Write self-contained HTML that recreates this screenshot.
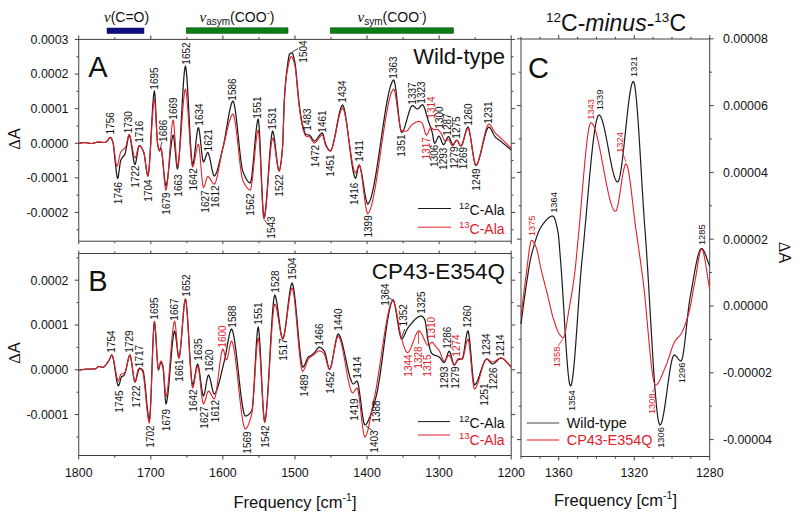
<!DOCTYPE html>
<html><head><meta charset="utf-8"><title>FTIR</title>
<style>html,body{margin:0;padding:0;background:#fff;width:800px;height:521px;overflow:hidden}svg{display:block}</style>
</head><body>
<svg width="800" height="521" viewBox="0 0 800 521" font-family='"Liberation Sans", sans-serif'><rect x="78.75" y="39.4" width="432.45" height="201.8" fill="none" stroke="#404040" stroke-width="1"/>
<rect x="78.75" y="253.5" width="432.45" height="202" fill="none" stroke="#404040" stroke-width="1"/>
<rect x="521" y="39" width="188.7" height="417.5" fill="none" stroke="#404040" stroke-width="1"/>
<line x1="78.75" y1="39.4" x2="78.75" y2="35.4" stroke="#404040" stroke-width="1"/>
<line x1="78.75" y1="241.2" x2="78.75" y2="241.2" stroke="#404040" stroke-width="1"/>
<line x1="78.75" y1="455.5" x2="78.75" y2="459.5" stroke="#404040" stroke-width="1"/>
<line x1="78.75" y1="253.5" x2="78.75" y2="253.5" stroke="#404040" stroke-width="1"/>
<line x1="114.79" y1="39.4" x2="114.79" y2="37.2" stroke="#404040" stroke-width="1"/>
<line x1="114.79" y1="241.2" x2="114.79" y2="241.2" stroke="#404040" stroke-width="1"/>
<line x1="114.79" y1="455.5" x2="114.79" y2="457.7" stroke="#404040" stroke-width="1"/>
<line x1="114.79" y1="253.5" x2="114.79" y2="253.5" stroke="#404040" stroke-width="1"/>
<line x1="150.82" y1="39.4" x2="150.82" y2="35.4" stroke="#404040" stroke-width="1"/>
<line x1="150.82" y1="241.2" x2="150.82" y2="241.2" stroke="#404040" stroke-width="1"/>
<line x1="150.82" y1="455.5" x2="150.82" y2="459.5" stroke="#404040" stroke-width="1"/>
<line x1="150.82" y1="253.5" x2="150.82" y2="253.5" stroke="#404040" stroke-width="1"/>
<line x1="186.86" y1="39.4" x2="186.86" y2="37.2" stroke="#404040" stroke-width="1"/>
<line x1="186.86" y1="241.2" x2="186.86" y2="241.2" stroke="#404040" stroke-width="1"/>
<line x1="186.86" y1="455.5" x2="186.86" y2="457.7" stroke="#404040" stroke-width="1"/>
<line x1="186.86" y1="253.5" x2="186.86" y2="253.5" stroke="#404040" stroke-width="1"/>
<line x1="222.9" y1="39.4" x2="222.9" y2="35.4" stroke="#404040" stroke-width="1"/>
<line x1="222.9" y1="241.2" x2="222.9" y2="241.2" stroke="#404040" stroke-width="1"/>
<line x1="222.9" y1="455.5" x2="222.9" y2="459.5" stroke="#404040" stroke-width="1"/>
<line x1="222.9" y1="253.5" x2="222.9" y2="253.5" stroke="#404040" stroke-width="1"/>
<line x1="258.94" y1="39.4" x2="258.94" y2="37.2" stroke="#404040" stroke-width="1"/>
<line x1="258.94" y1="241.2" x2="258.94" y2="241.2" stroke="#404040" stroke-width="1"/>
<line x1="258.94" y1="455.5" x2="258.94" y2="457.7" stroke="#404040" stroke-width="1"/>
<line x1="258.94" y1="253.5" x2="258.94" y2="253.5" stroke="#404040" stroke-width="1"/>
<line x1="294.98" y1="39.4" x2="294.98" y2="35.4" stroke="#404040" stroke-width="1"/>
<line x1="294.98" y1="241.2" x2="294.98" y2="241.2" stroke="#404040" stroke-width="1"/>
<line x1="294.98" y1="455.5" x2="294.98" y2="459.5" stroke="#404040" stroke-width="1"/>
<line x1="294.98" y1="253.5" x2="294.98" y2="253.5" stroke="#404040" stroke-width="1"/>
<line x1="331.01" y1="39.4" x2="331.01" y2="37.2" stroke="#404040" stroke-width="1"/>
<line x1="331.01" y1="241.2" x2="331.01" y2="241.2" stroke="#404040" stroke-width="1"/>
<line x1="331.01" y1="455.5" x2="331.01" y2="457.7" stroke="#404040" stroke-width="1"/>
<line x1="331.01" y1="253.5" x2="331.01" y2="253.5" stroke="#404040" stroke-width="1"/>
<line x1="367.05" y1="39.4" x2="367.05" y2="35.4" stroke="#404040" stroke-width="1"/>
<line x1="367.05" y1="241.2" x2="367.05" y2="241.2" stroke="#404040" stroke-width="1"/>
<line x1="367.05" y1="455.5" x2="367.05" y2="459.5" stroke="#404040" stroke-width="1"/>
<line x1="367.05" y1="253.5" x2="367.05" y2="253.5" stroke="#404040" stroke-width="1"/>
<line x1="403.09" y1="39.4" x2="403.09" y2="37.2" stroke="#404040" stroke-width="1"/>
<line x1="403.09" y1="241.2" x2="403.09" y2="241.2" stroke="#404040" stroke-width="1"/>
<line x1="403.09" y1="455.5" x2="403.09" y2="457.7" stroke="#404040" stroke-width="1"/>
<line x1="403.09" y1="253.5" x2="403.09" y2="253.5" stroke="#404040" stroke-width="1"/>
<line x1="439.12" y1="39.4" x2="439.12" y2="35.4" stroke="#404040" stroke-width="1"/>
<line x1="439.12" y1="241.2" x2="439.12" y2="241.2" stroke="#404040" stroke-width="1"/>
<line x1="439.12" y1="455.5" x2="439.12" y2="459.5" stroke="#404040" stroke-width="1"/>
<line x1="439.12" y1="253.5" x2="439.12" y2="253.5" stroke="#404040" stroke-width="1"/>
<line x1="475.16" y1="39.4" x2="475.16" y2="37.2" stroke="#404040" stroke-width="1"/>
<line x1="475.16" y1="241.2" x2="475.16" y2="241.2" stroke="#404040" stroke-width="1"/>
<line x1="475.16" y1="455.5" x2="475.16" y2="457.7" stroke="#404040" stroke-width="1"/>
<line x1="475.16" y1="253.5" x2="475.16" y2="253.5" stroke="#404040" stroke-width="1"/>
<line x1="511.2" y1="39.4" x2="511.2" y2="35.4" stroke="#404040" stroke-width="1"/>
<line x1="511.2" y1="241.2" x2="511.2" y2="241.2" stroke="#404040" stroke-width="1"/>
<line x1="511.2" y1="455.5" x2="511.2" y2="459.5" stroke="#404040" stroke-width="1"/>
<line x1="511.2" y1="253.5" x2="511.2" y2="253.5" stroke="#404040" stroke-width="1"/>
<line x1="78.75" y1="241.2" x2="78.75" y2="244.2" stroke="#404040" stroke-width="1"/>
<line x1="78.75" y1="253.5" x2="78.75" y2="250.5" stroke="#404040" stroke-width="1"/>
<line x1="114.79" y1="241.2" x2="114.79" y2="243.2" stroke="#404040" stroke-width="1"/>
<line x1="114.79" y1="253.5" x2="114.79" y2="251.5" stroke="#404040" stroke-width="1"/>
<line x1="150.82" y1="241.2" x2="150.82" y2="244.2" stroke="#404040" stroke-width="1"/>
<line x1="150.82" y1="253.5" x2="150.82" y2="250.5" stroke="#404040" stroke-width="1"/>
<line x1="186.86" y1="241.2" x2="186.86" y2="243.2" stroke="#404040" stroke-width="1"/>
<line x1="186.86" y1="253.5" x2="186.86" y2="251.5" stroke="#404040" stroke-width="1"/>
<line x1="222.9" y1="241.2" x2="222.9" y2="244.2" stroke="#404040" stroke-width="1"/>
<line x1="222.9" y1="253.5" x2="222.9" y2="250.5" stroke="#404040" stroke-width="1"/>
<line x1="258.94" y1="241.2" x2="258.94" y2="243.2" stroke="#404040" stroke-width="1"/>
<line x1="258.94" y1="253.5" x2="258.94" y2="251.5" stroke="#404040" stroke-width="1"/>
<line x1="294.98" y1="241.2" x2="294.98" y2="244.2" stroke="#404040" stroke-width="1"/>
<line x1="294.98" y1="253.5" x2="294.98" y2="250.5" stroke="#404040" stroke-width="1"/>
<line x1="331.01" y1="241.2" x2="331.01" y2="243.2" stroke="#404040" stroke-width="1"/>
<line x1="331.01" y1="253.5" x2="331.01" y2="251.5" stroke="#404040" stroke-width="1"/>
<line x1="367.05" y1="241.2" x2="367.05" y2="244.2" stroke="#404040" stroke-width="1"/>
<line x1="367.05" y1="253.5" x2="367.05" y2="250.5" stroke="#404040" stroke-width="1"/>
<line x1="403.09" y1="241.2" x2="403.09" y2="243.2" stroke="#404040" stroke-width="1"/>
<line x1="403.09" y1="253.5" x2="403.09" y2="251.5" stroke="#404040" stroke-width="1"/>
<line x1="439.12" y1="241.2" x2="439.12" y2="244.2" stroke="#404040" stroke-width="1"/>
<line x1="439.12" y1="253.5" x2="439.12" y2="250.5" stroke="#404040" stroke-width="1"/>
<line x1="475.16" y1="241.2" x2="475.16" y2="243.2" stroke="#404040" stroke-width="1"/>
<line x1="475.16" y1="253.5" x2="475.16" y2="251.5" stroke="#404040" stroke-width="1"/>
<line x1="511.2" y1="241.2" x2="511.2" y2="244.2" stroke="#404040" stroke-width="1"/>
<line x1="511.2" y1="253.5" x2="511.2" y2="250.5" stroke="#404040" stroke-width="1"/>
<line x1="78.75" y1="229.75" x2="76.55" y2="229.75" stroke="#404040" stroke-width="1"/>
<line x1="511.2" y1="229.75" x2="513.4" y2="229.75" stroke="#404040" stroke-width="1"/>
<line x1="78.75" y1="212.45" x2="74.75" y2="212.45" stroke="#404040" stroke-width="1"/>
<line x1="511.2" y1="212.45" x2="515.2" y2="212.45" stroke="#404040" stroke-width="1"/>
<text x="68.5" y="216.85" font-size="12.4" text-anchor="end" fill="#111" font-family='"Liberation Sans", sans-serif'>-0.0002</text>
<line x1="78.75" y1="195.15" x2="76.55" y2="195.15" stroke="#404040" stroke-width="1"/>
<line x1="511.2" y1="195.15" x2="513.4" y2="195.15" stroke="#404040" stroke-width="1"/>
<line x1="78.75" y1="177.85" x2="74.75" y2="177.85" stroke="#404040" stroke-width="1"/>
<line x1="511.2" y1="177.85" x2="515.2" y2="177.85" stroke="#404040" stroke-width="1"/>
<text x="68.5" y="182.25" font-size="12.4" text-anchor="end" fill="#111" font-family='"Liberation Sans", sans-serif'>-0.0001</text>
<line x1="78.75" y1="160.55" x2="76.55" y2="160.55" stroke="#404040" stroke-width="1"/>
<line x1="511.2" y1="160.55" x2="513.4" y2="160.55" stroke="#404040" stroke-width="1"/>
<line x1="78.75" y1="143.25" x2="74.75" y2="143.25" stroke="#404040" stroke-width="1"/>
<line x1="511.2" y1="143.25" x2="515.2" y2="143.25" stroke="#404040" stroke-width="1"/>
<text x="68.5" y="147.65" font-size="12.4" text-anchor="end" fill="#111" font-family='"Liberation Sans", sans-serif'>0.0000</text>
<line x1="78.75" y1="125.95" x2="76.55" y2="125.95" stroke="#404040" stroke-width="1"/>
<line x1="511.2" y1="125.95" x2="513.4" y2="125.95" stroke="#404040" stroke-width="1"/>
<line x1="78.75" y1="108.65" x2="74.75" y2="108.65" stroke="#404040" stroke-width="1"/>
<line x1="511.2" y1="108.65" x2="515.2" y2="108.65" stroke="#404040" stroke-width="1"/>
<text x="68.5" y="113.05" font-size="12.4" text-anchor="end" fill="#111" font-family='"Liberation Sans", sans-serif'>0.0001</text>
<line x1="78.75" y1="91.35" x2="76.55" y2="91.35" stroke="#404040" stroke-width="1"/>
<line x1="511.2" y1="91.35" x2="513.4" y2="91.35" stroke="#404040" stroke-width="1"/>
<line x1="78.75" y1="74.05" x2="74.75" y2="74.05" stroke="#404040" stroke-width="1"/>
<line x1="511.2" y1="74.05" x2="515.2" y2="74.05" stroke="#404040" stroke-width="1"/>
<text x="68.5" y="78.45" font-size="12.4" text-anchor="end" fill="#111" font-family='"Liberation Sans", sans-serif'>0.0002</text>
<line x1="78.75" y1="56.75" x2="76.55" y2="56.75" stroke="#404040" stroke-width="1"/>
<line x1="511.2" y1="56.75" x2="513.4" y2="56.75" stroke="#404040" stroke-width="1"/>
<line x1="78.75" y1="39.45" x2="74.75" y2="39.45" stroke="#404040" stroke-width="1"/>
<line x1="511.2" y1="39.45" x2="515.2" y2="39.45" stroke="#404040" stroke-width="1"/>
<text x="68.5" y="43.85" font-size="12.4" text-anchor="end" fill="#111" font-family='"Liberation Sans", sans-serif'>0.0003</text>
<line x1="78.75" y1="437" x2="76.55" y2="437" stroke="#404040" stroke-width="1"/>
<line x1="511.2" y1="437" x2="513.4" y2="437" stroke="#404040" stroke-width="1"/>
<line x1="78.75" y1="414.6" x2="74.75" y2="414.6" stroke="#404040" stroke-width="1"/>
<line x1="511.2" y1="414.6" x2="515.2" y2="414.6" stroke="#404040" stroke-width="1"/>
<text x="68.5" y="419" font-size="12.4" text-anchor="end" fill="#111" font-family='"Liberation Sans", sans-serif'>-0.0001</text>
<line x1="78.75" y1="392.2" x2="76.55" y2="392.2" stroke="#404040" stroke-width="1"/>
<line x1="511.2" y1="392.2" x2="513.4" y2="392.2" stroke="#404040" stroke-width="1"/>
<line x1="78.75" y1="369.8" x2="74.75" y2="369.8" stroke="#404040" stroke-width="1"/>
<line x1="511.2" y1="369.8" x2="515.2" y2="369.8" stroke="#404040" stroke-width="1"/>
<text x="68.5" y="374.2" font-size="12.4" text-anchor="end" fill="#111" font-family='"Liberation Sans", sans-serif'>0.0000</text>
<line x1="78.75" y1="347.4" x2="76.55" y2="347.4" stroke="#404040" stroke-width="1"/>
<line x1="511.2" y1="347.4" x2="513.4" y2="347.4" stroke="#404040" stroke-width="1"/>
<line x1="78.75" y1="325" x2="74.75" y2="325" stroke="#404040" stroke-width="1"/>
<line x1="511.2" y1="325" x2="515.2" y2="325" stroke="#404040" stroke-width="1"/>
<text x="68.5" y="329.4" font-size="12.4" text-anchor="end" fill="#111" font-family='"Liberation Sans", sans-serif'>0.0001</text>
<line x1="78.75" y1="302.6" x2="76.55" y2="302.6" stroke="#404040" stroke-width="1"/>
<line x1="511.2" y1="302.6" x2="513.4" y2="302.6" stroke="#404040" stroke-width="1"/>
<line x1="78.75" y1="280.2" x2="74.75" y2="280.2" stroke="#404040" stroke-width="1"/>
<line x1="511.2" y1="280.2" x2="515.2" y2="280.2" stroke="#404040" stroke-width="1"/>
<text x="68.5" y="284.6" font-size="12.4" text-anchor="end" fill="#111" font-family='"Liberation Sans", sans-serif'>0.0002</text>
<line x1="78.75" y1="257.8" x2="76.55" y2="257.8" stroke="#404040" stroke-width="1"/>
<line x1="511.2" y1="257.8" x2="513.4" y2="257.8" stroke="#404040" stroke-width="1"/>
<text x="78.75" y="476.6" font-size="12.4" text-anchor="middle" fill="#111" font-family='"Liberation Sans", sans-serif'>1800</text>
<text x="150.82" y="476.6" font-size="12.4" text-anchor="middle" fill="#111" font-family='"Liberation Sans", sans-serif'>1700</text>
<text x="222.9" y="476.6" font-size="12.4" text-anchor="middle" fill="#111" font-family='"Liberation Sans", sans-serif'>1600</text>
<text x="294.98" y="476.6" font-size="12.4" text-anchor="middle" fill="#111" font-family='"Liberation Sans", sans-serif'>1500</text>
<text x="367.05" y="476.6" font-size="12.4" text-anchor="middle" fill="#111" font-family='"Liberation Sans", sans-serif'>1400</text>
<text x="439.12" y="476.6" font-size="12.4" text-anchor="middle" fill="#111" font-family='"Liberation Sans", sans-serif'>1300</text>
<text x="511.2" y="476.6" font-size="12.4" text-anchor="middle" fill="#111" font-family='"Liberation Sans", sans-serif'>1200</text>
<line x1="521" y1="39" x2="521" y2="36.8" stroke="#404040" stroke-width="1"/>
<line x1="521" y1="456.5" x2="521" y2="458.7" stroke="#404040" stroke-width="1"/>
<line x1="539.88" y1="39" x2="539.88" y2="36.8" stroke="#404040" stroke-width="1"/>
<line x1="539.88" y1="456.5" x2="539.88" y2="458.7" stroke="#404040" stroke-width="1"/>
<line x1="558.75" y1="39" x2="558.75" y2="35" stroke="#404040" stroke-width="1"/>
<line x1="558.75" y1="456.5" x2="558.75" y2="460.5" stroke="#404040" stroke-width="1"/>
<line x1="577.62" y1="39" x2="577.62" y2="36.8" stroke="#404040" stroke-width="1"/>
<line x1="577.62" y1="456.5" x2="577.62" y2="458.7" stroke="#404040" stroke-width="1"/>
<line x1="596.5" y1="39" x2="596.5" y2="36.8" stroke="#404040" stroke-width="1"/>
<line x1="596.5" y1="456.5" x2="596.5" y2="458.7" stroke="#404040" stroke-width="1"/>
<line x1="615.38" y1="39" x2="615.38" y2="36.8" stroke="#404040" stroke-width="1"/>
<line x1="615.38" y1="456.5" x2="615.38" y2="458.7" stroke="#404040" stroke-width="1"/>
<line x1="634.25" y1="39" x2="634.25" y2="35" stroke="#404040" stroke-width="1"/>
<line x1="634.25" y1="456.5" x2="634.25" y2="460.5" stroke="#404040" stroke-width="1"/>
<line x1="653.12" y1="39" x2="653.12" y2="36.8" stroke="#404040" stroke-width="1"/>
<line x1="653.12" y1="456.5" x2="653.12" y2="458.7" stroke="#404040" stroke-width="1"/>
<line x1="672" y1="39" x2="672" y2="36.8" stroke="#404040" stroke-width="1"/>
<line x1="672" y1="456.5" x2="672" y2="458.7" stroke="#404040" stroke-width="1"/>
<line x1="690.88" y1="39" x2="690.88" y2="36.8" stroke="#404040" stroke-width="1"/>
<line x1="690.88" y1="456.5" x2="690.88" y2="458.7" stroke="#404040" stroke-width="1"/>
<line x1="709.75" y1="39" x2="709.75" y2="35" stroke="#404040" stroke-width="1"/>
<line x1="709.75" y1="456.5" x2="709.75" y2="460.5" stroke="#404040" stroke-width="1"/>
<text x="558.75" y="476.6" font-size="12.4" text-anchor="middle" fill="#111" font-family='"Liberation Sans", sans-serif'>1360</text>
<text x="634.25" y="476.6" font-size="12.4" text-anchor="middle" fill="#111" font-family='"Liberation Sans", sans-serif'>1320</text>
<text x="709.75" y="476.6" font-size="12.4" text-anchor="middle" fill="#111" font-family='"Liberation Sans", sans-serif'>1280</text>
<line x1="521" y1="439.6" x2="517" y2="439.6" stroke="#404040" stroke-width="1"/>
<line x1="709.7" y1="439.6" x2="713.7" y2="439.6" stroke="#404040" stroke-width="1"/>
<text x="723" y="444" font-size="12.4" text-anchor="start" fill="#111" font-family='"Liberation Sans", sans-serif'>-0.00004</text>
<line x1="521" y1="406.2" x2="518.8" y2="406.2" stroke="#404040" stroke-width="1"/>
<line x1="709.7" y1="406.2" x2="711.9" y2="406.2" stroke="#404040" stroke-width="1"/>
<line x1="521" y1="372.8" x2="517" y2="372.8" stroke="#404040" stroke-width="1"/>
<line x1="709.7" y1="372.8" x2="713.7" y2="372.8" stroke="#404040" stroke-width="1"/>
<text x="723" y="377.2" font-size="12.4" text-anchor="start" fill="#111" font-family='"Liberation Sans", sans-serif'>-0.00002</text>
<line x1="521" y1="339.4" x2="518.8" y2="339.4" stroke="#404040" stroke-width="1"/>
<line x1="709.7" y1="339.4" x2="711.9" y2="339.4" stroke="#404040" stroke-width="1"/>
<line x1="521" y1="306" x2="517" y2="306" stroke="#404040" stroke-width="1"/>
<line x1="709.7" y1="306" x2="713.7" y2="306" stroke="#404040" stroke-width="1"/>
<text x="723" y="310.4" font-size="12.4" text-anchor="start" fill="#111" font-family='"Liberation Sans", sans-serif'>0.00000</text>
<line x1="521" y1="272.6" x2="518.8" y2="272.6" stroke="#404040" stroke-width="1"/>
<line x1="709.7" y1="272.6" x2="711.9" y2="272.6" stroke="#404040" stroke-width="1"/>
<line x1="521" y1="239.2" x2="517" y2="239.2" stroke="#404040" stroke-width="1"/>
<line x1="709.7" y1="239.2" x2="713.7" y2="239.2" stroke="#404040" stroke-width="1"/>
<text x="723" y="243.6" font-size="12.4" text-anchor="start" fill="#111" font-family='"Liberation Sans", sans-serif'>0.00002</text>
<line x1="521" y1="205.8" x2="518.8" y2="205.8" stroke="#404040" stroke-width="1"/>
<line x1="709.7" y1="205.8" x2="711.9" y2="205.8" stroke="#404040" stroke-width="1"/>
<line x1="521" y1="172.4" x2="517" y2="172.4" stroke="#404040" stroke-width="1"/>
<line x1="709.7" y1="172.4" x2="713.7" y2="172.4" stroke="#404040" stroke-width="1"/>
<text x="723" y="176.8" font-size="12.4" text-anchor="start" fill="#111" font-family='"Liberation Sans", sans-serif'>0.00004</text>
<line x1="521" y1="139" x2="518.8" y2="139" stroke="#404040" stroke-width="1"/>
<line x1="709.7" y1="139" x2="711.9" y2="139" stroke="#404040" stroke-width="1"/>
<line x1="521" y1="105.6" x2="517" y2="105.6" stroke="#404040" stroke-width="1"/>
<line x1="709.7" y1="105.6" x2="713.7" y2="105.6" stroke="#404040" stroke-width="1"/>
<text x="723" y="110" font-size="12.4" text-anchor="start" fill="#111" font-family='"Liberation Sans", sans-serif'>0.00006</text>
<line x1="521" y1="72.2" x2="518.8" y2="72.2" stroke="#404040" stroke-width="1"/>
<line x1="709.7" y1="72.2" x2="711.9" y2="72.2" stroke="#404040" stroke-width="1"/>
<line x1="521" y1="38.8" x2="517" y2="38.8" stroke="#404040" stroke-width="1"/>
<line x1="709.7" y1="38.8" x2="713.7" y2="38.8" stroke="#404040" stroke-width="1"/>
<text x="723" y="43.2" font-size="12.4" text-anchor="start" fill="#111" font-family='"Liberation Sans", sans-serif'>0.00008</text>
<text transform="translate(19.5,139) rotate(-90)" font-size="16" text-anchor="middle" fill="#111"><tspan font-family='"Liberation Serif", serif' font-size="16.5">&#916;</tspan>A</text>
<text transform="translate(19.5,353) rotate(-90)" font-size="16" text-anchor="middle" fill="#111"><tspan font-family='"Liberation Serif", serif' font-size="16.5">&#916;</tspan>A</text>
<text transform="translate(779,252.5) rotate(90)" font-size="16" text-anchor="middle" fill="#111"><tspan font-family='"Liberation Serif", serif' font-size="16.5">&#916;</tspan>A</text>
<text x="295" y="508" font-size="16.5" text-anchor="middle" fill="#111" font-family='"Liberation Sans", sans-serif'>Frequency [cm<tspan font-size="10.5" dy="-7">-1</tspan><tspan dy="7">]</tspan></text>
<text x="615.5" y="505.5" font-size="16.5" text-anchor="middle" fill="#111" font-family='"Liberation Sans", sans-serif'>Frequency [cm<tspan font-size="10.5" dy="-7">-1</tspan><tspan dy="7">]</tspan></text>
<rect x="107" y="28" width="37" height="5.6" fill="#0b0d80" stroke="#101040" stroke-width="0.5"/>
<rect x="186.3" y="27.8" width="101.7" height="5.6" fill="#0a7d14" stroke="#0a3a0a" stroke-width="0.5"/>
<rect x="330.3" y="27.8" width="123.2" height="5.6" fill="#0a7d14" stroke="#0a3a0a" stroke-width="0.5"/>
<text x="104" y="22" font-size="14" fill="#111"><tspan font-family='"Liberation Serif", serif' font-style="italic" font-size="15">&#957;</tspan>(C=O)</text>
<text x="199.5" y="22" font-size="14" fill="#111"><tspan font-family='"Liberation Serif", serif' font-style="italic" font-size="15">&#957;</tspan><tspan font-size="10" dy="3">asym</tspan><tspan dy="-3">(COO</tspan><tspan font-size="9" dy="-6">-</tspan><tspan dy="6">)</tspan></text>
<text x="357.5" y="22" font-size="14" fill="#111"><tspan font-family='"Liberation Serif", serif' font-style="italic" font-size="15">&#957;</tspan><tspan font-size="10" dy="3">sym</tspan><tspan dy="-3">(COO</tspan><tspan font-size="9" dy="-6">-</tspan><tspan dy="6">)</tspan></text>
<text x="546" y="31.3" font-size="23" fill="#111"><tspan font-size="13.5" dy="-9.5">12</tspan><tspan dy="9.5">C-</tspan><tspan font-style="italic">minus</tspan>-<tspan font-size="13.5" dy="-9.5">13</tspan><tspan dy="9.5">C</tspan></text>
<text x="98" y="77" font-size="29" text-anchor="middle" fill="#111" font-family='"Liberation Sans", sans-serif'>A</text>
<text x="98" y="290.5" font-size="29" text-anchor="middle" fill="#111" font-family='"Liberation Sans", sans-serif'>B</text>
<text x="538.6" y="77.5" font-size="29" text-anchor="middle" fill="#111" font-family='"Liberation Sans", sans-serif'>C</text>
<text x="505" y="64" font-size="22" text-anchor="end" fill="#111" font-family='"Liberation Sans", sans-serif'>Wild-type</text>
<line x1="418" y1="208.5" x2="451" y2="208.5" stroke="#1c1c1c" stroke-width="1"/>
<line x1="418" y1="227.2" x2="451" y2="227.2" stroke="#e0202a" stroke-width="1"/>
<text x="459" y="214.75" font-size="14" fill="#111"><tspan font-size="9.5" dy="-6">12</tspan><tspan dy="6">C-Ala</tspan></text>
<text x="459" y="233.5" font-size="14" fill="#e0202a"><tspan font-size="9.5" dy="-6">13</tspan><tspan dy="6">C-Ala</tspan></text>
<path d="M78.75 143.2 L79.29 143.14 L79.84 143.08 L80.38 143.01 L80.93 142.94 L81.47 142.87 L82.01 142.8 L82.56 142.74 L83.1 142.69 L83.64 142.64 L84.19 142.61 L84.73 142.6 L85.25 142.62 L85.76 142.67 L86.28 142.73 L86.79 142.81 L87.31 142.9 L87.83 143 L88.34 143.1 L88.86 143.2 L89.37 143.29 L89.89 143.37 L90.4 143.43 L90.92 143.48 L91.44 143.5 L91.96 143.47 L92.48 143.4 L93 143.3 L93.52 143.17 L94.04 143.03 L94.56 142.88 L95.08 142.72 L95.6 142.57 L96.13 142.43 L96.65 142.3 L97.17 142.2 L97.69 142.13 L98.21 142.1 L98.73 142.11 L99.24 142.13 L99.76 142.16 L100.27 142.19 L100.79 142.23 L101.3 142.28 L101.82 142.32 L102.34 142.37 L102.85 142.41 L103.37 142.44 L103.88 142.47 L104.4 142.49 L104.91 142.5 L105.45 142.34 L105.98 141.99 L106.51 141.52 L107.05 141 L107.58 140.5 L108.16 139.86 L108.73 139.07 L109.31 138.29 L109.89 137.68 L110.46 137.4 L110.97 137.72 L111.47 138.46 L111.98 139.53 L112.48 140.9 L112.99 142.5 L113.49 145.45 L113.99 150.14 L114.5 155.38 L115 160 L115.54 164.51 L116.07 169.31 L116.6 173.71 L117.14 177 L117.67 178.5 L118.18 177.15 L118.68 174.19 L119.18 170.32 L119.69 166.29 L120.19 162.81 L120.7 160.6 L121.22 159.39 L121.74 158.44 L122.27 157.65 L122.79 156.9 L123.31 156.26 L123.83 155.74 L124.36 155.15 L124.88 154.3 L125.43 152.45 L125.98 149.68 L126.54 146.9 L127.07 144.13 L127.6 140.99 L128.14 138.01 L128.67 135.74 L129.2 134.7 L129.73 135.6 L130.25 137.58 L130.78 140.41 L131.3 143.84 L131.82 147.64 L132.35 151.56 L132.87 155.36 L133.4 158.79 L133.92 161.62 L134.44 163.6 L134.97 164.5 L135.51 163.53 L136.05 161.35 L136.59 158.38 L137.13 155 L137.67 151.62 L138.21 148.65 L138.75 146.47 L139.29 145.5 L139.83 145.7 L140.37 146.13 L140.91 146.75 L141.46 147.55 L142 148.5 L142.54 149.58 L143.08 150.75 L143.62 152 L144.16 153.98 L144.7 157.08 L145.24 160.88 L145.78 164.98 L146.32 168.95 L146.86 172.39 L147.4 174.88 L147.94 176 L148.48 173.79 L149.02 168.92 L149.56 161.92 L150.1 153.33 L150.64 143.68 L151.19 133.5 L151.73 123.32 L152.27 113.67 L152.81 105.08 L153.35 98.08 L153.89 93.21 L154.43 91 L154.97 95.16 L155.51 104.32 L156.05 116.16 L156.59 128.35 L157.13 138.57 L157.67 144.5 L158.27 147.63 L158.87 149.96 L159.47 151 L160.19 149.75 L160.92 148.5 L161.42 149.82 L161.92 152.76 L162.43 156.91 L162.93 161.88 L163.44 167.25 L163.94 172.62 L164.45 177.58 L164.95 181.74 L165.46 184.68 L165.96 186 L166.48 184.97 L166.99 182.73 L167.51 179.49 L168.02 175.44 L168.53 170.8 L169.05 165.75 L169.56 160.5 L170.08 155.25 L170.59 150.2 L171.11 145.56 L171.62 141.51 L172.14 138.27 L172.65 136.03 L173.17 135 L173.71 136.74 L174.25 140.63 L174.79 145.96 L175.33 152 L175.87 158.04 L176.41 163.37 L176.95 167.26 L177.49 169 L178.02 167.13 L178.55 163.12 L179.08 157.3 L179.61 149.99 L180.14 141.53 L180.66 132.25 L181.19 122.47 L181.72 112.53 L182.25 102.75 L182.78 93.47 L183.31 85.01 L183.84 77.7 L184.36 71.88 L184.89 67.87 L185.42 66 L185.94 68.01 L186.45 72.35 L186.97 78.64 L187.48 86.49 L188 95.51 L188.51 105.31 L189.02 115.5 L189.54 125.69 L190.05 135.49 L190.57 144.51 L191.08 152.36 L191.6 158.65 L192.11 162.99 L192.63 165 L193.15 163.88 L193.68 161.39 L194.2 157.83 L194.73 153.52 L195.25 148.76 L195.77 143.84 L196.3 139.08 L196.82 134.77 L197.35 131.21 L197.87 128.72 L198.39 127.6 L198.9 128.81 L199.4 131.51 L199.91 135.32 L200.41 139.87 L200.92 144.8 L201.42 149.73 L201.93 154.28 L202.43 158.09 L202.94 160.79 L203.44 162 L203.98 161.51 L204.52 160.43 L205.06 158.94 L205.6 157.25 L206.14 155.56 L206.68 154.07 L207.22 152.99 L207.76 152.5 L208.3 153.11 L208.85 154.46 L209.39 156.39 L209.93 158.77 L210.47 161.43 L211.01 164.25 L211.55 167.07 L212.09 169.73 L212.63 172.11 L213.17 174.04 L213.71 175.39 L214.25 176 L214.76 175.68 L215.27 175.06 L215.78 174.17 L216.29 173.03 L216.79 171.68 L217.3 170.13 L217.81 168.41 L218.32 166.55 L218.83 164.58 L219.34 162.51 L219.85 160.37 L220.36 158.2 L220.86 156 L221.37 153.82 L221.88 151.68 L222.39 149.6 L222.9 147.6 L223.4 145.53 L223.91 143.21 L224.41 140.68 L224.92 137.97 L225.42 135.11 L225.93 132.16 L226.43 129.14 L226.94 126.09 L227.44 123.05 L227.95 120.06 L228.45 117.16 L228.95 114.37 L229.46 111.75 L229.96 109.32 L230.47 107.13 L230.97 105.21 L231.48 103.6 L231.98 102.34 L232.49 101.46 L232.99 101 L233.5 101.78 L234 103.34 L234.5 105.62 L235.01 108.51 L235.51 111.95 L236.02 115.84 L236.52 120.11 L237.03 124.67 L237.53 129.44 L238.04 134.33 L238.54 139.27 L239.04 144.17 L239.55 148.95 L240.05 153.52 L240.56 157.8 L241.06 161.72 L241.57 165.17 L242.07 168.1 L242.58 170.4 L243.08 172 L243.6 173.23 L244.11 174.42 L244.63 175.57 L245.14 176.66 L245.66 177.69 L246.17 178.66 L246.68 179.54 L247.2 180.35 L247.71 181.06 L248.23 181.68 L248.74 182.19 L249.26 182.58 L249.77 182.85 L250.29 183 L250.82 181.84 L251.35 179.35 L251.87 175.73 L252.4 171.19 L252.93 165.93 L253.46 160.16 L253.99 154.09 L254.52 147.91 L255.05 141.84 L255.57 136.07 L256.1 130.81 L256.63 126.27 L257.16 122.65 L257.69 120.16 L258.22 119 L258.74 121.98 L259.27 128.57 L259.79 137.97 L260.31 149.38 L260.84 161.99 L261.36 175.01 L261.89 187.62 L262.41 199.03 L262.93 208.43 L263.46 215.02 L263.98 218 L264.49 216.71 L265 213.98 L265.51 210.01 L266.02 204.99 L266.53 199.11 L267.04 192.55 L267.54 185.52 L268.05 178.21 L268.56 170.79 L269.07 163.48 L269.58 156.45 L270.09 149.89 L270.6 144.01 L271.11 138.99 L271.61 135.02 L272.12 132.29 L272.63 131 L273.17 132.04 L273.71 134.33 L274.25 137.62 L274.79 141.67 L275.33 146.21 L275.88 151 L276.42 155.79 L276.96 160.33 L277.5 164.38 L278.04 167.67 L278.58 169.96 L279.12 171 L279.63 170.08 L280.15 168.1 L280.66 165.14 L281.18 161.26 L281.69 156.54 L282.21 151.03 L282.72 144.8 L283.44 124.66 L284.16 102.6 L284.74 93.13 L285.32 85.35 L285.89 79 L286.47 73.8 L287.05 69.05 L287.62 64.45 L288.2 60.29 L288.78 56.88 L289.35 54.51 L289.93 53.5 L290.47 53.3 L291.01 53.14 L291.55 53.04 L292.09 53 L292.61 53.57 L293.13 54.81 L293.64 56.62 L294.16 58.86 L294.67 61.43 L295.19 64.2 L295.84 69.31 L296.49 76.31 L297.14 83.4 L297.76 90.03 L298.39 96.74 L299.01 102.6 L299.59 107.16 L300.16 111.38 L300.74 115.23 L301.32 118.71 L301.89 121.8 L302.52 124.76 L303.14 127.34 L303.77 129.5 L304.42 131.57 L305.07 133.36 L305.71 134.3 L306.26 134.51 L306.81 134.66 L307.35 134.75 L307.9 134.83 L308.44 134.91 L308.99 135.03 L309.53 135.2 L310.06 135.55 L310.59 136.16 L311.12 136.93 L311.65 137.81 L312.18 138.7 L312.71 139.55 L313.23 140.26 L313.76 140.77 L314.29 141 L314.8 140.87 L315.3 140.59 L315.8 140.19 L316.31 139.67 L316.81 139.08 L317.32 138.42 L317.82 137.72 L318.33 137 L318.83 136.28 L319.34 135.58 L319.84 134.92 L320.35 134.33 L320.85 133.81 L321.35 133.41 L321.86 133.13 L322.36 133 L322.87 133.65 L323.37 135.1 L323.88 137.06 L324.38 139.28 L324.89 141.49 L325.39 143.42 L325.9 144.8 L326.44 145.9 L326.99 146.98 L327.54 148 L328.09 148.93 L328.64 149.73 L329.19 150.36 L329.74 150.8 L330.29 151 L330.8 150.6 L331.31 149.8 L331.82 148.65 L332.33 147.17 L332.84 145.4 L333.35 143.38 L333.87 141.15 L334.38 138.73 L334.89 136.18 L335.4 133.51 L335.91 130.77 L336.42 128 L336.93 125.23 L337.44 122.49 L337.95 119.82 L338.46 117.27 L338.97 114.85 L339.48 112.62 L339.99 110.6 L340.5 108.83 L341.01 107.35 L341.52 106.2 L342.03 105.4 L342.54 105 L343.06 105.6 L343.58 106.79 L344.1 108.5 L344.62 110.7 L345.14 113.33 L345.66 116.33 L346.18 119.67 L346.7 123.29 L347.21 127.13 L347.73 131.15 L348.25 135.3 L348.77 139.53 L349.29 143.77 L349.81 148 L350.33 152.15 L350.85 156.17 L351.37 160.01 L351.89 163.63 L352.4 166.97 L352.92 169.97 L353.44 172.6 L353.96 174.8 L354.48 176.51 L355 177.7 L355.52 178.3 L356.03 177.45 L356.55 175.55 L357.06 173.02 L357.58 170.28 L358.09 167.75 L358.61 165.85 L359.12 165 L359.63 165.58 L360.14 166.8 L360.65 168.58 L361.16 170.83 L361.67 173.47 L362.17 176.41 L362.68 179.56 L363.19 182.84 L363.7 186.16 L364.21 189.44 L364.72 192.59 L365.23 195.53 L365.74 198.17 L366.24 200.42 L366.75 202.2 L367.26 203.42 L367.77 204 L368.28 203.63 L368.79 203.01 L369.3 202.16 L369.81 201.08 L370.31 199.78 L370.82 198.27 L371.33 196.57 L371.84 194.68 L372.35 192.61 L372.86 190.38 L373.37 187.99 L373.88 185.45 L374.38 182.78 L374.89 179.98 L375.4 177.07 L375.91 174.05 L376.42 170.93 L376.93 167.73 L377.44 164.45 L377.95 161.11 L378.45 157.71 L378.96 154.27 L379.47 150.79 L379.98 147.28 L380.49 143.76 L381 140.24 L381.51 136.72 L382.02 133.21 L382.52 129.73 L383.03 126.29 L383.54 122.89 L384.05 119.55 L384.56 116.27 L385.07 113.07 L385.58 109.95 L386.09 106.93 L386.6 104.02 L387.1 101.22 L387.61 98.55 L388.12 96.01 L388.63 93.62 L389.14 91.39 L389.65 89.32 L390.16 87.43 L390.67 85.73 L391.17 84.22 L391.68 82.92 L392.19 81.84 L392.7 80.99 L393.21 80.37 L393.72 80 L394.25 80.95 L394.77 83 L395.3 85.96 L395.83 89.69 L396.36 94 L396.89 98.73 L397.42 103.72 L397.95 108.78 L398.47 113.77 L399 118.5 L399.53 122.81 L400.06 126.54 L400.59 129.5 L401.12 131.55 L401.65 132.5 L402.16 132.21 L402.68 131.62 L403.19 130.77 L403.71 129.68 L404.22 128.38 L404.73 126.91 L405.25 125.3 L405.76 123.58 L406.28 121.78 L406.79 119.93 L407.31 118.07 L407.82 116.22 L408.34 114.42 L408.85 112.7 L409.37 111.09 L409.88 109.62 L410.4 108.32 L410.91 107.23 L411.43 106.38 L411.94 105.79 L412.46 105.5 L412.96 105.62 L413.47 105.9 L413.97 106.29 L414.48 106.75 L414.98 107.25 L415.48 107.75 L415.99 108.21 L416.49 108.6 L417 108.88 L417.5 109 L418.01 108.85 L418.51 108.52 L419.02 108.05 L419.52 107.48 L420.03 106.88 L420.53 106.27 L421.03 105.7 L421.54 105.23 L422.04 104.9 L422.55 104.75 L423.05 105.09 L423.56 105.79 L424.06 106.81 L424.57 108.09 L425.07 109.59 L425.57 111.24 L426.08 113 L426.58 114.83 L427.09 116.66 L427.59 118.45 L428.1 120.15 L428.6 121.7 L429.12 123.16 L429.63 124.59 L430.15 126.01 L430.66 127.47 L431.18 129.02 L431.69 130.68 L432.21 132.5 L432.78 135.34 L433.36 138.84 L433.94 141.86 L434.51 143.3 L435.07 142.93 L435.63 142.11 L436.19 140.98 L436.75 139.7 L437.31 138.42 L437.86 137.29 L438.42 136.47 L438.98 136.1 L439.49 136.46 L439.99 137.27 L440.49 138.39 L441 139.71 L441.5 141.09 L442.01 142.41 L442.51 143.53 L443.02 144.34 L443.52 144.7 L444.07 144.36 L444.63 143.6 L445.18 142.54 L445.73 141.3 L446.28 140 L446.84 138.76 L447.39 137.7 L447.94 136.94 L448.49 136.6 L449.05 137.01 L449.61 137.94 L450.17 139.21 L450.73 140.65 L451.29 142.09 L451.85 143.36 L452.4 144.29 L452.96 144.7 L453.49 144.41 L454.01 143.77 L454.54 142.91 L455.06 141.99 L455.59 141.13 L456.11 140.49 L456.64 140.2 L457.19 140.5 L457.74 141.16 L458.29 142.07 L458.84 143.1 L459.39 144.13 L459.94 145.04 L460.49 145.7 L461.04 146 L461.57 145.57 L462.1 144.62 L462.63 143.25 L463.16 141.55 L463.7 139.63 L464.23 137.56 L464.76 135.44 L465.29 133.37 L465.83 131.45 L466.36 129.75 L466.89 128.38 L467.42 127.43 L467.95 127 L468.48 127.7 L469.01 129.2 L469.54 131.37 L470.07 134.1 L470.6 137.27 L471.13 140.74 L471.65 144.39 L472.18 148.11 L472.71 151.76 L473.24 155.23 L473.77 158.4 L474.3 161.13 L474.83 163.3 L475.35 164.8 L475.88 165.5 L476.4 165.18 L476.92 164.56 L477.44 163.66 L477.96 162.51 L478.48 161.13 L479 159.55 L479.52 157.79 L480.03 155.89 L480.55 153.88 L481.07 151.76 L481.59 149.58 L482.11 147.37 L482.63 145.13 L483.15 142.92 L483.67 140.74 L484.19 138.62 L484.71 136.61 L485.22 134.71 L485.74 132.95 L486.26 131.37 L486.78 129.99 L487.3 128.84 L487.82 127.94 L488.34 127.32 L488.86 127 L489.4 127.22 L489.94 127.7 L490.48 128.39 L491.02 129.24 L491.56 130.22 L492.1 131.29 L492.64 132.39 L493.18 133.49 L493.72 134.54 L494.26 135.51 L494.8 136.34 L495.34 137 L495.85 137.5 L496.35 137.95 L496.86 138.37 L497.36 138.77 L497.87 139.14 L498.37 139.5 L498.88 139.86 L499.38 140.23 L499.88 140.6 L500.39 141 L500.9 141.42 L501.42 141.84 L501.93 142.26 L502.45 142.68 L502.96 143.11 L503.48 143.54 L503.99 143.96 L504.51 144.39 L505.02 144.82 L505.54 145.25 L506.05 145.69 L506.57 146.12 L507.08 146.55 L507.6 146.98 L508.11 147.41 L508.63 147.85 L509.14 148.28 L509.66 148.71 L510.17 149.14 L510.69 149.57 L511.2 150" fill="none" stroke="#1c1c1c" stroke-width="1.25" stroke-linejoin="round"/>
<path d="M78.75 143.2 L79.29 143.14 L79.84 143.08 L80.38 143.01 L80.93 142.94 L81.47 142.87 L82.01 142.8 L82.56 142.74 L83.1 142.69 L83.64 142.64 L84.19 142.61 L84.73 142.6 L85.25 142.62 L85.76 142.67 L86.28 142.73 L86.79 142.81 L87.31 142.9 L87.83 143 L88.34 143.1 L88.86 143.2 L89.37 143.29 L89.89 143.37 L90.4 143.43 L90.92 143.48 L91.44 143.5 L91.96 143.47 L92.48 143.4 L93 143.3 L93.52 143.17 L94.04 143.03 L94.56 142.88 L95.08 142.72 L95.6 142.57 L96.13 142.43 L96.65 142.3 L97.17 142.2 L97.69 142.13 L98.21 142.1 L98.73 142.11 L99.24 142.13 L99.76 142.16 L100.27 142.19 L100.79 142.23 L101.3 142.28 L101.82 142.32 L102.34 142.37 L102.85 142.41 L103.37 142.44 L103.88 142.47 L104.4 142.49 L104.91 142.5 L105.45 142.34 L105.98 141.99 L106.51 141.52 L107.05 141 L107.58 140.5 L108.16 139.86 L108.73 139.07 L109.31 138.29 L109.89 137.68 L110.46 137.4 L110.97 137.76 L111.47 138.56 L111.98 139.69 L112.48 141.04 L112.99 142.5 L113.55 145 L114.12 148.79 L114.68 153.28 L115.25 157.87 L115.82 161.99 L116.38 165.03 L116.95 166.4 L117.49 165.57 L118.02 163.73 L118.56 161.24 L119.09 158.48 L119.63 155.8 L120.16 153.59 L120.7 152.2 L121.21 151.46 L121.73 150.87 L122.25 150.38 L122.76 149.93 L123.28 149.49 L123.8 149 L124.33 148.52 L124.85 148.03 L125.38 147.4 L125.93 146.14 L126.47 144.15 L127.02 141.76 L127.57 139.3 L128.11 137.08 L128.66 135.44 L129.2 134.7 L129.73 135.4 L130.25 136.95 L130.78 139.16 L131.3 141.85 L131.82 144.82 L132.35 147.88 L132.87 150.85 L133.4 153.54 L133.92 155.75 L134.44 157.3 L134.97 158 L135.51 157.36 L136.05 155.93 L136.59 153.97 L137.13 151.75 L137.67 149.53 L138.21 147.57 L138.75 146.14 L139.29 145.5 L139.83 145.7 L140.37 146.13 L140.91 146.75 L141.46 147.55 L142 148.5 L142.54 149.58 L143.08 150.75 L143.62 152 L144.16 153.98 L144.7 157.08 L145.24 160.88 L145.78 164.98 L146.32 168.95 L146.86 172.39 L147.4 174.88 L147.94 176 L148.48 173.99 L149.02 169.58 L149.56 163.25 L150.1 155.47 L150.64 146.72 L151.19 137.5 L151.73 128.28 L152.27 119.53 L152.81 111.75 L153.35 105.42 L153.89 101.01 L154.43 99 L154.97 102.45 L155.51 110.03 L156.05 119.86 L156.59 130.06 L157.13 138.74 L157.67 144 L158.27 147.08 L158.87 149.44 L159.47 150.5 L160.19 149.25 L160.92 148 L161.42 149.49 L161.92 152.82 L162.43 157.51 L162.93 163.13 L163.44 169.2 L163.94 175.27 L164.45 180.89 L164.95 185.58 L165.46 188.91 L165.96 190.4 L166.48 188.97 L166.99 185.88 L167.51 181.41 L168.02 175.83 L168.53 169.41 L169.05 162.45 L169.56 155.2 L170.08 147.95 L170.59 140.99 L171.11 134.57 L171.62 128.99 L172.14 124.52 L172.65 121.43 L173.17 120 L173.71 122.37 L174.25 127.67 L174.79 134.92 L175.33 143.15 L175.87 151.38 L176.41 158.63 L176.95 163.93 L177.49 166.3 L178.02 164.9 L178.55 161.89 L179.08 157.52 L179.61 152.04 L180.14 145.69 L180.66 138.72 L181.19 131.38 L181.72 123.92 L182.25 116.58 L182.78 109.61 L183.31 103.26 L183.84 97.78 L184.36 93.41 L184.89 90.4 L185.42 89 L185.94 90.58 L186.45 94 L186.97 98.96 L187.48 105.15 L188 112.25 L188.51 119.97 L189.02 128 L189.54 136.03 L190.05 143.75 L190.57 150.85 L191.08 157.04 L191.6 162 L192.11 165.42 L192.63 167 L193.15 166.31 L193.68 164.8 L194.2 162.63 L194.73 160 L195.25 157.1 L195.77 154.1 L196.3 151.2 L196.82 148.57 L197.35 146.4 L197.87 144.89 L198.39 144.2 L198.9 145.73 L199.4 149.14 L199.91 153.96 L200.41 159.72 L200.92 165.95 L201.42 172.18 L201.93 177.94 L202.43 182.76 L202.94 186.17 L203.44 187.7 L203.98 187.13 L204.52 185.86 L205.06 184.12 L205.6 182.15 L206.14 180.18 L206.68 178.44 L207.22 177.17 L207.76 176.6 L208.3 176.8 L208.85 177.23 L209.39 177.86 L209.93 178.63 L210.47 179.49 L211.01 180.4 L211.55 181.31 L212.09 182.17 L212.63 182.94 L213.17 183.57 L213.71 184 L214.25 184.2 L214.76 183.76 L215.27 182.89 L215.78 181.64 L216.29 180.05 L216.79 178.16 L217.3 176.02 L217.81 173.67 L218.32 171.16 L218.83 168.52 L219.34 165.81 L219.85 163.06 L220.36 160.32 L220.86 157.63 L221.37 155.05 L221.88 152.6 L222.39 150.34 L222.9 148.3 L223.4 146.35 L223.91 144.31 L224.41 142.18 L224.92 140 L225.42 137.78 L225.93 135.55 L226.43 133.32 L226.94 131.11 L227.44 128.95 L227.95 126.85 L228.45 124.84 L228.95 122.94 L229.46 121.16 L229.96 119.53 L230.47 118.07 L230.97 116.8 L231.48 115.73 L231.98 114.9 L232.49 114.31 L232.99 114 L233.5 114.74 L234 116.23 L234.5 118.41 L235.01 121.17 L235.51 124.45 L236.02 128.17 L236.52 132.24 L237.03 136.59 L237.53 141.13 L238.04 145.78 L238.54 150.47 L239.04 155.12 L239.55 159.63 L240.05 163.95 L240.56 167.97 L241.06 171.63 L241.57 174.84 L242.07 177.53 L242.58 179.61 L243.08 181 L243.6 182.03 L244.11 183.01 L244.63 183.96 L245.14 184.86 L245.66 185.7 L246.17 186.49 L246.68 187.21 L247.2 187.86 L247.71 188.44 L248.23 188.94 L248.74 189.34 L249.26 189.66 L249.77 189.88 L250.29 190 L250.82 188.91 L251.35 186.58 L251.87 183.18 L252.4 178.93 L252.93 174 L253.46 168.59 L253.99 162.9 L254.52 157.1 L255.05 151.41 L255.57 146 L256.1 141.07 L256.63 136.82 L257.16 133.42 L257.69 131.09 L258.22 130 L258.74 132.67 L259.27 138.6 L259.79 147.05 L260.31 157.31 L260.84 168.65 L261.36 180.35 L261.89 191.69 L262.41 201.95 L262.93 210.4 L263.46 216.33 L263.98 219 L264.49 217.8 L265 215.26 L265.51 211.56 L266.02 206.89 L266.53 201.41 L267.04 195.31 L267.54 188.76 L268.05 181.95 L268.56 175.05 L269.07 168.24 L269.58 161.69 L270.09 155.59 L270.6 150.11 L271.11 145.44 L271.61 141.74 L272.12 139.2 L272.63 138 L273.17 138.86 L273.71 140.75 L274.25 143.47 L274.79 146.8 L275.33 150.55 L275.88 154.5 L276.42 158.45 L276.96 162.2 L277.5 165.53 L278.04 168.25 L278.58 170.14 L279.12 171 L279.63 170.1 L280.15 168.19 L280.66 165.31 L281.18 161.54 L281.69 156.94 L282.21 151.57 L282.72 145.5 L283.44 125.69 L284.16 104 L284.74 94.6 L285.32 86.76 L285.89 80.54 L286.47 76 L287.01 72.61 L287.56 69.41 L288.1 66.46 L288.65 63.79 L289.19 61.47 L289.74 59.53 L290.28 58.02 L290.83 57 L291.37 56.5 L291.92 56.89 L292.46 57.72 L293.01 58.95 L293.55 60.54 L294.1 62.44 L294.65 64.61 L295.19 67 L295.84 71.81 L296.49 78.86 L297.14 86 L297.76 92.56 L298.39 99.2 L299.01 105 L299.59 109.52 L300.16 113.7 L300.74 117.52 L301.32 120.97 L301.89 124 L302.52 126.9 L303.14 129.42 L303.77 131.5 L304.42 133.44 L305.07 135.11 L305.71 136 L306.26 136.23 L306.81 136.39 L307.35 136.5 L307.9 136.59 L308.44 136.68 L308.99 136.81 L309.53 137 L310.06 137.38 L310.59 138 L311.12 138.81 L311.65 139.71 L312.18 140.64 L312.71 141.5 L313.23 142.24 L313.76 142.76 L314.29 143 L314.8 142.87 L315.3 142.59 L315.8 142.19 L316.31 141.67 L316.81 141.08 L317.32 140.42 L317.82 139.72 L318.33 139 L318.83 138.28 L319.34 137.58 L319.84 136.92 L320.35 136.33 L320.85 135.81 L321.35 135.41 L321.86 135.13 L322.36 135 L322.87 135.62 L323.37 136.99 L323.88 138.86 L324.38 140.95 L324.89 143.01 L325.39 144.78 L325.9 146 L326.44 146.92 L326.99 147.81 L327.54 148.63 L328.09 149.37 L328.64 150 L329.19 150.5 L329.74 150.84 L330.29 151 L330.8 150.62 L331.31 149.88 L331.82 148.8 L332.33 147.42 L332.84 145.76 L333.35 143.88 L333.87 141.79 L334.38 139.53 L334.89 137.14 L335.4 134.65 L335.91 132.09 L336.42 129.5 L336.93 126.91 L337.44 124.35 L337.95 121.86 L338.46 119.47 L338.97 117.21 L339.48 115.12 L339.99 113.24 L340.5 111.58 L341.01 110.2 L341.52 109.12 L342.03 108.38 L342.54 108 L343.06 108.53 L343.58 109.58 L344.1 111.11 L344.62 113.05 L345.14 115.38 L345.66 118.05 L346.18 121.01 L346.7 124.22 L347.21 127.63 L347.73 131.19 L348.25 134.87 L348.77 138.62 L349.29 142.38 L349.81 146.13 L350.33 149.81 L350.85 153.37 L351.37 156.78 L351.89 159.99 L352.4 162.95 L352.92 165.62 L353.44 167.95 L353.96 169.89 L354.48 171.42 L355 172.47 L355.52 173 L356.03 172.49 L356.55 171.34 L357.06 169.82 L357.58 168.18 L358.09 166.66 L358.61 165.51 L359.12 165 L359.63 165.72 L360.14 167.25 L360.65 169.46 L361.16 172.27 L361.67 175.55 L362.17 179.21 L362.68 183.14 L363.19 187.23 L363.7 191.37 L364.21 195.46 L364.72 199.39 L365.23 203.05 L365.74 206.33 L366.24 209.14 L366.75 211.35 L367.26 212.88 L367.77 213.6 L368.28 213.23 L368.79 212.61 L369.3 211.75 L369.81 210.66 L370.31 209.36 L370.82 207.84 L371.33 206.13 L371.84 204.23 L372.35 202.16 L372.86 199.91 L373.37 197.51 L373.88 194.96 L374.38 192.28 L374.89 189.47 L375.4 186.54 L375.91 183.5 L376.42 180.37 L376.93 177.16 L377.44 173.86 L377.95 170.5 L378.45 167.09 L378.96 163.63 L379.47 160.13 L379.98 156.61 L380.49 153.07 L381 149.53 L381.51 145.99 L382.02 142.47 L382.52 138.97 L383.03 135.51 L383.54 132.1 L384.05 128.74 L384.56 125.44 L385.07 122.23 L385.58 119.1 L386.09 116.06 L386.6 113.13 L387.1 110.32 L387.61 107.64 L388.12 105.09 L388.63 102.69 L389.14 100.44 L389.65 98.37 L390.16 96.47 L390.67 94.76 L391.17 93.24 L391.68 91.94 L392.19 90.85 L392.7 89.99 L393.21 89.37 L393.72 89 L394.25 89.78 L394.77 91.45 L395.3 93.88 L395.83 96.94 L396.36 100.46 L396.89 104.33 L397.42 108.39 L397.95 112.5 L398.47 116.53 L399 120.33 L399.53 123.76 L400.06 126.68 L400.59 128.96 L401.12 130.44 L401.65 131 L402.2 131.04 L402.76 131.08 L403.32 131.11 L403.88 131.14 L404.44 131.17 L405 131.18 L405.56 131.19 L406.11 131.2 L406.64 131.04 L407.16 130.71 L407.68 130.23 L408.2 129.63 L408.73 128.95 L409.25 128.22 L409.77 127.46 L410.3 126.71 L410.82 126 L411.34 125.35 L411.86 124.81 L412.39 124.4 L412.91 124.06 L413.44 123.72 L413.97 123.39 L414.49 123.07 L415.02 122.76 L415.55 122.48 L416.07 122.21 L416.6 121.97 L417.13 121.76 L417.65 121.58 L418.18 121.44 L418.71 121.35 L419.23 121.3 L419.75 121.41 L420.27 121.65 L420.78 122 L421.3 122.44 L421.81 122.94 L422.33 123.5 L422.84 124.42 L423.34 125.9 L423.85 127.76 L424.35 129.76 L424.85 131.72 L425.36 133.42 L425.86 134.65 L426.37 135.2 L426.87 134.88 L427.38 134.17 L427.88 133.17 L428.39 132.01 L428.89 130.79 L429.39 129.63 L429.9 128.63 L430.4 127.92 L430.91 127.6 L431.42 127.78 L431.94 128.19 L432.46 128.7 L432.97 129.21 L433.49 129.62 L434.01 129.8 L434.54 129.77 L435.06 129.69 L435.59 129.6 L436.12 129.51 L436.65 129.43 L437.18 129.4 L437.68 129.54 L438.19 129.83 L438.69 130.25 L439.2 130.78 L439.7 131.38 L440.21 132.04 L440.71 132.72 L441.22 133.4 L441.73 134.29 L442.24 135.49 L442.76 136.83 L443.27 138.17 L443.79 139.35 L444.3 140.21 L444.82 140.6 L445.34 140.54 L445.87 140.41 L446.39 140.24 L446.92 140.06 L447.44 139.89 L447.97 139.76 L448.49 139.7 L449 140.02 L449.5 140.74 L450.01 141.73 L450.51 142.85 L451.02 143.97 L451.52 144.96 L452.03 145.68 L452.53 146 L453.04 145.7 L453.56 145.04 L454.07 144.13 L454.59 143.1 L455.1 142.07 L455.61 141.16 L456.13 140.5 L456.64 140.2 L457.19 140.5 L457.74 141.16 L458.29 142.07 L458.84 143.1 L459.39 144.13 L459.94 145.04 L460.49 145.7 L461.04 146 L461.57 145.59 L462.1 144.69 L462.63 143.39 L463.16 141.79 L463.7 139.96 L464.23 138 L464.76 136 L465.29 134.04 L465.83 132.21 L466.36 130.61 L466.89 129.31 L467.42 128.41 L467.95 128 L468.48 128.68 L469.01 130.14 L469.54 132.26 L470.07 134.92 L470.6 138 L471.13 141.38 L471.65 144.94 L472.18 148.56 L472.71 152.12 L473.24 155.5 L473.77 158.58 L474.3 161.24 L474.83 163.36 L475.35 164.82 L475.88 165.5 L476.4 165.16 L476.92 164.49 L477.44 163.52 L477.96 162.27 L478.48 160.79 L479 159.08 L479.52 157.19 L480.03 155.15 L480.55 152.97 L481.07 150.69 L481.59 148.34 L482.11 145.95 L482.63 143.55 L483.15 141.16 L483.67 138.81 L484.19 136.53 L484.71 134.35 L485.22 132.31 L485.74 130.42 L486.26 128.71 L486.78 127.23 L487.3 125.98 L487.82 125.01 L488.34 124.34 L488.86 124 L489.4 124.19 L489.94 124.6 L490.48 125.19 L491.02 125.93 L491.56 126.78 L492.1 127.71 L492.64 128.68 L493.18 129.66 L493.72 130.62 L494.26 131.52 L494.8 132.32 L495.34 133 L495.85 133.54 L496.35 134.06 L496.86 134.55 L497.36 135.02 L497.87 135.48 L498.37 135.93 L498.88 136.38 L499.38 136.83 L499.88 137.28 L500.39 137.75 L500.9 138.24 L501.42 138.72 L501.93 139.21 L502.45 139.7 L502.96 140.18 L503.48 140.67 L503.99 141.16 L504.51 141.65 L505.02 142.14 L505.54 142.63 L506.05 143.11 L506.57 143.6 L507.08 144.09 L507.6 144.58 L508.11 145.07 L508.63 145.56 L509.14 146.05 L509.66 146.54 L510.17 147.02 L510.69 147.51 L511.2 148" fill="none" stroke="#e0202a" stroke-width="1.1" stroke-linejoin="round"/>
<text transform="translate(110.9,123.3) rotate(-90)" x="0" y="3.58" font-size="10" text-anchor="middle" fill="#111">1756</text>
<text transform="translate(128.7,122.2) rotate(-90)" x="0" y="3.58" font-size="10" text-anchor="middle" fill="#111">1730</text>
<text transform="translate(139,131.7) rotate(-90)" x="0" y="3.58" font-size="10" text-anchor="middle" fill="#111">1716</text>
<text transform="translate(154.6,78.5) rotate(-90)" x="0" y="3.58" font-size="10" text-anchor="middle" fill="#111">1695</text>
<text transform="translate(163.5,130.8) rotate(-90)" x="0" y="3.58" font-size="10" text-anchor="middle" fill="#111">1686</text>
<text transform="translate(173,108.5) rotate(-90)" x="0" y="3.58" font-size="10" text-anchor="middle" fill="#111">1669</text>
<text transform="translate(186,53.5) rotate(-90)" x="0" y="3.58" font-size="10" text-anchor="middle" fill="#111">1652</text>
<text transform="translate(199,114.5) rotate(-90)" x="0" y="3.58" font-size="10" text-anchor="middle" fill="#111">1634</text>
<text transform="translate(208,140.3) rotate(-90)" x="0" y="3.58" font-size="10" text-anchor="middle" fill="#111">1621</text>
<text transform="translate(232.4,89.5) rotate(-90)" x="0" y="3.58" font-size="10" text-anchor="middle" fill="#111">1586</text>
<text transform="translate(118,193) rotate(-90)" x="0" y="3.58" font-size="10" text-anchor="middle" fill="#111">1746</text>
<text transform="translate(135.4,176.5) rotate(-90)" x="0" y="3.58" font-size="10" text-anchor="middle" fill="#111">1722</text>
<text transform="translate(148.4,190.5) rotate(-90)" x="0" y="3.58" font-size="10" text-anchor="middle" fill="#111">1704</text>
<text transform="translate(166,203.5) rotate(-90)" x="0" y="3.58" font-size="10" text-anchor="middle" fill="#111">1679</text>
<text transform="translate(178,185.5) rotate(-90)" x="0" y="3.58" font-size="10" text-anchor="middle" fill="#111">1663</text>
<text transform="translate(193.1,179.4) rotate(-90)" x="0" y="3.58" font-size="10" text-anchor="middle" fill="#111">1642</text>
<text transform="translate(205,201.5) rotate(-90)" x="0" y="3.58" font-size="10" text-anchor="middle" fill="#111">1627</text>
<text transform="translate(215.6,196.5) rotate(-90)" x="0" y="3.58" font-size="10" text-anchor="middle" fill="#111">1612</text>
<text transform="translate(257,107.5) rotate(-90)" x="0" y="3.58" font-size="10" text-anchor="middle" fill="#111">1551</text>
<text transform="translate(272.4,118.5) rotate(-90)" x="0" y="3.58" font-size="10" text-anchor="middle" fill="#111">1531</text>
<text transform="translate(303,51.5) rotate(-90)" x="0" y="3.58" font-size="10" text-anchor="middle" fill="#111">1504</text>
<text transform="translate(307,119.5) rotate(-90)" x="0" y="3.58" font-size="10" text-anchor="middle" fill="#111">1483</text>
<text transform="translate(322.4,121.5) rotate(-90)" x="0" y="3.58" font-size="10" text-anchor="middle" fill="#111">1461</text>
<text transform="translate(342,91.5) rotate(-90)" x="0" y="3.58" font-size="10" text-anchor="middle" fill="#111">1434</text>
<text transform="translate(250,204.5) rotate(-90)" x="0" y="3.58" font-size="10" text-anchor="middle" fill="#111">1562</text>
<text transform="translate(271,227.5) rotate(-90)" x="0" y="3.58" font-size="10" text-anchor="middle" fill="#111">1543</text>
<text transform="translate(279,185.5) rotate(-90)" x="0" y="3.58" font-size="10" text-anchor="middle" fill="#111">1522</text>
<text transform="translate(315,156) rotate(-90)" x="0" y="3.58" font-size="10" text-anchor="middle" fill="#111">1472</text>
<text transform="translate(330,165.5) rotate(-90)" x="0" y="3.58" font-size="10" text-anchor="middle" fill="#111">1451</text>
<text transform="translate(354.7,193.75) rotate(-90)" x="0" y="3.58" font-size="10" text-anchor="middle" fill="#111">1416</text>
<text transform="translate(359,151) rotate(-90)" x="0" y="3.58" font-size="10" text-anchor="middle" fill="#111">1411</text>
<text transform="translate(368,226.4) rotate(-90)" x="0" y="3.58" font-size="10" text-anchor="middle" fill="#111">1399</text>
<text transform="translate(393.6,67.5) rotate(-90)" x="0" y="3.58" font-size="10" text-anchor="middle" fill="#111">1363</text>
<text transform="translate(412,93.5) rotate(-90)" x="0" y="3.58" font-size="10" text-anchor="middle" fill="#111">1337</text>
<text transform="translate(421,92.5) rotate(-90)" x="0" y="3.58" font-size="10" text-anchor="middle" fill="#111">1323</text>
<text transform="translate(439,117.5) rotate(-90)" x="0" y="3.58" font-size="10" text-anchor="middle" fill="#111">1300</text>
<text transform="translate(447,124.5) rotate(-90)" x="0" y="3.58" font-size="10" text-anchor="middle" fill="#111">1287</text>
<text transform="translate(456,127.5) rotate(-90)" x="0" y="3.58" font-size="10" text-anchor="middle" fill="#111">1275</text>
<text transform="translate(468.4,114.5) rotate(-90)" x="0" y="3.58" font-size="10" text-anchor="middle" fill="#111">1260</text>
<text transform="translate(488,112.5) rotate(-90)" x="0" y="3.58" font-size="10" text-anchor="middle" fill="#111">1231</text>
<text transform="translate(401.5,145.6) rotate(-90)" x="0" y="3.58" font-size="10" text-anchor="middle" fill="#111">1351</text>
<text transform="translate(434.5,155.75) rotate(-90)" x="0" y="3.58" font-size="10" text-anchor="middle" fill="#111">1306</text>
<text transform="translate(443.5,158.75) rotate(-90)" x="0" y="3.58" font-size="10" text-anchor="middle" fill="#111">1293</text>
<text transform="translate(454,157.6) rotate(-90)" x="0" y="3.58" font-size="10" text-anchor="middle" fill="#111">1279</text>
<text transform="translate(463,158) rotate(-90)" x="0" y="3.58" font-size="10" text-anchor="middle" fill="#111">1269</text>
<text transform="translate(476,179.5) rotate(-90)" x="0" y="3.58" font-size="10" text-anchor="middle" fill="#111">1249</text>
<text transform="translate(431,107.5) rotate(-90)" x="0" y="3.58" font-size="10" text-anchor="middle" fill="#e0202a">1314</text>
<text transform="translate(426.25,148.25) rotate(-90)" x="0" y="3.58" font-size="10" text-anchor="middle" fill="#e0202a">1317</text>
<line x1="291.5" y1="52.5" x2="298" y2="48.5" stroke="#1c1c1c" stroke-width="0.8"/>
<line x1="264.5" y1="220" x2="267.5" y2="224" stroke="#1c1c1c" stroke-width="0.8"/>
<line x1="162" y1="142" x2="160" y2="149" stroke="#1c1c1c" stroke-width="0.8"/>
<text x="505" y="279" font-size="22.4" text-anchor="end" fill="#111" font-family='"Liberation Sans", sans-serif'>CP43-E354Q</text>
<line x1="418" y1="421.6" x2="450" y2="421.6" stroke="#1c1c1c" stroke-width="1"/>
<line x1="418" y1="435" x2="450" y2="435" stroke="#e0202a" stroke-width="1"/>
<text x="459" y="428" font-size="14" fill="#111"><tspan font-size="9.5" dy="-6">12</tspan><tspan dy="6">C-Ala</tspan></text>
<text x="459" y="445" font-size="14" fill="#e0202a"><tspan font-size="9.5" dy="-6">13</tspan><tspan dy="6">C-Ala</tspan></text>
<path d="M78.75 370.3 L79.29 370.21 L79.84 370.1 L80.38 370 L80.93 369.89 L81.47 369.79 L82.01 369.68 L82.56 369.58 L83.1 369.5 L83.64 369.42 L84.19 369.35 L84.73 369.3 L85.24 369.26 L85.74 369.23 L86.25 369.21 L86.75 369.18 L87.25 369.16 L87.76 369.14 L88.26 369.13 L88.77 369.12 L89.27 369.1 L89.78 369.09 L90.28 369.08 L90.79 369.06 L91.29 369.05 L91.8 369.03 L92.3 369.01 L92.8 368.99 L93.31 368.96 L93.81 368.93 L94.32 368.89 L94.82 368.85 L95.33 368.8 L95.9 368.59 L96.48 368.17 L97.06 367.63 L97.63 367.1 L98.21 366.69 L98.79 366.5 L99.3 366.54 L99.81 366.63 L100.33 366.76 L100.84 366.9 L101.35 367.04 L101.87 367.17 L102.38 367.26 L102.9 367.3 L103.44 367.16 L103.98 366.86 L104.53 366.42 L105.07 365.88 L105.61 365.24 L106.16 364.52 L106.7 363.75 L107.25 362.94 L107.79 362.12 L108.33 361.3 L108.88 360.5 L109.38 359.6 L109.89 358.47 L110.39 357.28 L110.9 356.19 L111.4 355.37 L111.9 355 L112.45 355.81 L112.99 357.58 L113.53 360.13 L114.07 363.27 L114.61 366.79 L115.15 370.5 L115.69 374.21 L116.23 377.73 L116.77 380.87 L117.31 383.42 L117.85 385.19 L118.39 386 L118.94 385.25 L119.5 383.61 L120.05 381.5 L120.6 379.35 L121.15 377.57 L121.71 376.6 L122.23 376.3 L122.75 376.11 L123.27 375.92 L123.8 375.6 L124.34 374.76 L124.88 373.5 L125.38 372.03 L125.89 370.1 L126.39 367.85 L126.9 365.44 L127.4 362.98 L127.91 360.62 L128.41 358.51 L128.91 356.78 L129.42 355.56 L129.92 355 L130.43 355.95 L130.93 358.07 L131.44 361.06 L131.94 364.63 L132.45 368.5 L132.95 372.37 L133.45 375.94 L133.96 378.93 L134.46 381.05 L134.97 382 L135.48 381.42 L135.99 380.13 L136.51 378.32 L137.02 376.21 L137.53 373.99 L138.04 371.88 L138.56 370.07 L139.07 368.78 L139.58 368.2 L140.12 368.3 L140.66 368.51 L141.2 368.83 L141.74 369.25 L142.28 369.74 L142.82 370.3 L143.33 371.58 L143.83 374.15 L144.34 377.79 L144.84 382.25 L145.35 387.29 L145.85 392.67 L146.36 398.17 L146.86 403.53 L147.37 408.52 L147.87 412.9 L148.37 416.43 L148.88 418.88 L149.38 420 L149.89 416.54 L150.39 408.82 L150.9 397.92 L151.4 384.89 L151.91 370.8 L152.41 356.71 L152.92 343.68 L153.42 332.78 L153.92 325.06 L154.43 321.6 L155 324.7 L155.56 331.62 L156.13 340.82 L156.69 350.78 L157.26 359.98 L157.83 366.9 L158.39 370 L158.9 369.09 L159.4 367.15 L159.91 364.85 L160.41 362.91 L160.92 362 L161.46 362.58 L162 363.88 L162.54 365.75 L163.08 368 L163.65 373.26 L164.23 382.16 L164.81 392.03 L165.38 400.2 L165.96 404 L166.47 402.92 L166.98 400.63 L167.49 397.3 L168 393.08 L168.5 388.15 L169.01 382.65 L169.52 376.75 L170.03 370.61 L170.54 364.39 L171.05 358.25 L171.56 352.35 L172.07 346.85 L172.57 341.92 L173.08 337.7 L173.59 334.37 L174.1 332.08 L174.61 331 L175.15 332.38 L175.69 335.47 L176.23 339.7 L176.77 344.5 L177.31 349.3 L177.85 353.53 L178.39 356.62 L178.93 358 L179.47 356.46 L180.02 353.08 L180.56 348.23 L181.1 342.27 L181.64 335.57 L182.18 328.5 L182.72 321.43 L183.26 314.73 L183.8 308.77 L184.34 303.92 L184.88 300.54 L185.42 299 L185.94 300.74 L186.45 304.52 L186.97 309.98 L187.48 316.8 L188 324.64 L188.51 333.15 L189.02 342 L189.54 350.85 L190.05 359.36 L190.57 367.2 L191.08 374.02 L191.6 379.48 L192.11 383.26 L192.63 385 L193.13 384.26 L193.64 382.61 L194.14 380.29 L194.65 377.51 L195.15 374.5 L195.66 371.49 L196.16 368.71 L196.66 366.39 L197.17 364.74 L197.67 364 L198.2 364.96 L198.72 367.09 L199.25 370.13 L199.77 373.82 L200.29 377.9 L200.82 382.1 L201.34 386.18 L201.87 389.87 L202.39 392.91 L202.92 395.04 L203.44 396 L203.94 395.26 L204.45 393.61 L204.95 391.29 L205.46 388.51 L205.96 385.5 L206.47 382.49 L206.97 379.71 L207.48 377.39 L207.98 375.74 L208.49 375 L209.01 375.57 L209.53 376.84 L210.06 378.64 L210.58 380.83 L211.11 383.25 L211.63 385.75 L212.15 388.17 L212.68 390.36 L213.2 392.16 L213.73 393.43 L214.25 394 L214.76 393.7 L215.26 393.15 L215.76 392.37 L216.27 391.37 L216.77 390.18 L217.28 388.8 L217.78 387.27 L218.29 385.59 L218.79 383.79 L219.3 381.88 L219.8 379.88 L220.31 377.82 L220.81 375.7 L221.31 373.55 L221.82 371.39 L222.32 369.23 L222.83 367.1 L223.33 365 L223.84 362.96 L224.34 361 L224.86 358.86 L225.37 356.41 L225.89 353.72 L226.4 350.85 L226.92 347.89 L227.43 344.91 L227.95 341.98 L228.46 339.17 L228.97 336.56 L229.49 334.21 L230 332.21 L230.52 330.63 L231.03 329.53 L231.55 329 L232.06 329.64 L232.56 330.87 L233.07 332.65 L233.58 334.94 L234.08 337.67 L234.59 340.81 L235.1 344.32 L235.61 348.13 L236.11 352.2 L236.62 356.49 L237.13 360.94 L237.64 365.52 L238.14 370.16 L238.65 374.84 L239.16 379.48 L239.66 384.06 L240.17 388.51 L240.68 392.8 L241.19 396.87 L241.69 400.68 L242.2 404.19 L242.71 407.33 L243.21 410.06 L243.72 412.35 L244.23 414.13 L244.74 415.36 L245.24 416 L245.78 415.93 L246.32 415.79 L246.86 415.59 L247.41 415.33 L247.95 415 L248.49 414.62 L249.03 414.17 L249.57 413.66 L250.11 413.09 L250.65 412.45 L251.19 411.76 L251.73 411 L252.27 408.74 L252.81 403.88 L253.35 396.94 L253.89 388.45 L254.43 378.92 L254.97 368.87 L255.51 358.83 L256.05 349.32 L256.6 340.86 L257.14 333.98 L257.68 329.18 L258.22 327 L258.76 329.47 L259.3 334.92 L259.84 342.73 L260.38 352.33 L260.92 363.12 L261.46 374.5 L262 385.88 L262.54 396.67 L263.08 406.27 L263.62 414.08 L264.16 419.53 L264.7 422 L265.21 420.54 L265.71 417.53 L266.22 413.15 L266.72 407.57 L267.23 400.97 L267.73 393.5 L268.24 385.35 L268.74 376.69 L269.24 367.68 L269.75 358.5 L270.25 349.32 L270.76 340.31 L271.26 331.65 L271.77 323.5 L272.27 316.03 L272.78 309.43 L273.28 303.85 L273.78 299.47 L274.29 296.46 L274.79 295 L275.32 295.8 L275.85 297.51 L276.38 300 L276.91 303.12 L277.44 306.73 L277.97 310.7 L278.49 314.88 L279.02 319.12 L279.55 323.3 L280.08 327.27 L280.61 330.88 L281.14 334 L281.67 336.49 L282.19 338.2 L282.72 339 L283.24 338.24 L283.76 336.65 L284.28 334.33 L284.8 331.4 L285.32 327.94 L285.85 324.07 L286.37 319.88 L286.89 315.49 L287.41 311 L287.93 306.51 L288.45 302.12 L288.97 297.93 L289.49 294.06 L290.01 290.6 L290.53 287.67 L291.05 285.35 L291.57 283.76 L292.09 283 L292.61 283.9 L293.12 285.73 L293.64 288.4 L294.15 291.8 L294.67 295.85 L295.18 300.43 L295.7 305.45 L296.21 310.82 L296.73 316.43 L297.24 322.2 L297.76 328 L298.27 333.77 L298.78 339.38 L299.3 344.75 L299.81 349.77 L300.33 354.35 L300.84 358.4 L301.36 361.8 L301.87 364.47 L302.39 366.3 L302.9 367.2 L303.43 366.9 L303.95 366.25 L304.48 365.32 L305 364.19 L305.52 362.92 L306.05 361.59 L306.57 360.27 L307.1 359.04 L307.62 357.97 L308.15 357.13 L308.67 356.6 L309.21 356.3 L309.75 356.07 L310.29 355.86 L310.83 355.6 L311.36 355.26 L311.89 354.87 L312.42 354.44 L312.95 353.97 L313.47 353.49 L314 353 L314.53 352.45 L315.06 351.79 L315.58 351.07 L316.11 350.31 L316.63 349.56 L317.16 348.86 L317.69 348.23 L318.21 347.72 L318.74 347.37 L319.26 347.2 L319.78 347.29 L320.3 347.47 L320.82 347.74 L321.34 348.08 L321.86 348.5 L322.38 348.98 L322.9 349.52 L323.42 350.1 L323.93 350.73 L324.45 351.4 L324.97 352.43 L325.48 354.07 L325.99 356.14 L326.5 358.5 L327.01 360.97 L327.52 363.39 L328.04 365.59 L328.55 367.42 L329.06 368.71 L329.57 369.3 L330.08 368.78 L330.59 367.67 L331.1 366.06 L331.61 364.02 L332.11 361.63 L332.62 358.98 L333.13 356.12 L333.64 353.15 L334.15 350.15 L334.66 347.18 L335.17 344.32 L335.68 341.67 L336.18 339.28 L336.69 337.24 L337.2 335.63 L337.71 334.52 L338.22 334 L338.72 334.31 L339.23 334.91 L339.73 335.76 L340.24 336.85 L340.74 338.17 L341.25 339.68 L341.75 341.37 L342.26 343.23 L342.76 345.22 L343.27 347.33 L343.77 349.55 L344.27 351.84 L344.78 354.19 L345.28 356.59 L345.79 359 L346.29 361.41 L346.8 363.81 L347.3 366.16 L347.81 368.45 L348.31 370.67 L348.82 372.78 L349.32 374.77 L349.82 376.63 L350.33 378.32 L350.83 379.83 L351.34 381.15 L351.84 382.24 L352.35 383.09 L352.85 383.69 L353.36 384 L353.87 383.81 L354.39 383.38 L354.9 382.81 L355.42 382.19 L355.93 381.62 L356.44 381.19 L356.96 381 L357.49 381.8 L358.02 383.51 L358.55 386 L359.07 389.12 L359.6 392.73 L360.13 396.7 L360.66 400.88 L361.19 405.12 L361.72 409.3 L362.25 413.27 L362.77 416.88 L363.3 420 L363.83 422.49 L364.36 424.2 L364.89 425 L365.4 424.78 L365.92 424.4 L366.43 423.86 L366.95 423.17 L367.46 422.34 L367.98 421.38 L368.49 420.3 L369.01 419.11 L369.52 417.81 L370.04 416.43 L370.55 414.97 L371.07 413.44 L371.58 411.84 L372.1 410.19 L372.61 408.5 L373.12 406.78 L373.64 405.03 L374.15 403.27 L374.67 401.5 L375.18 399.74 L375.7 398 L376.21 396.15 L376.72 394.02 L377.23 391.64 L377.73 389.04 L378.24 386.22 L378.75 383.2 L379.26 380.02 L379.77 376.68 L380.28 373.21 L380.79 369.62 L381.3 365.94 L381.8 362.18 L382.31 358.37 L382.82 354.52 L383.33 350.65 L383.84 346.79 L384.35 342.95 L384.86 339.15 L385.37 335.41 L385.87 331.75 L386.38 328.2 L386.89 324.76 L387.4 321.46 L387.91 318.33 L388.42 315.37 L388.93 312.61 L389.44 310.06 L389.94 307.76 L390.45 305.71 L390.96 303.94 L391.47 302.46 L391.98 301.3 L392.49 300.47 L393 300 L393.51 300.58 L394.01 301.8 L394.52 303.58 L395.03 305.83 L395.54 308.47 L396.05 311.41 L396.56 314.56 L397.07 317.84 L397.58 321.16 L398.08 324.44 L398.59 327.59 L399.1 330.53 L399.61 333.17 L400.12 335.42 L400.63 337.2 L401.14 338.42 L401.65 339 L402.19 338.74 L402.73 338.2 L403.27 337.41 L403.81 336.44 L404.35 335.32 L404.89 334.1 L405.43 332.84 L405.97 331.58 L406.51 330.36 L407.05 329.25 L407.59 328.28 L408.13 327.5 L408.65 326.86 L409.17 326.22 L409.69 325.58 L410.21 324.94 L410.73 324.3 L411.25 323.67 L411.77 323.05 L412.28 322.44 L412.8 321.85 L413.32 321.27 L413.84 320.71 L414.36 320.17 L414.88 319.65 L415.4 319.15 L415.92 318.68 L416.44 318.25 L416.95 317.84 L417.47 317.47 L417.99 317.13 L418.51 316.83 L419.03 316.58 L419.55 316.36 L420.07 316.19 L420.59 316.07 L421.11 316 L421.62 316.12 L422.14 316.38 L422.65 316.76 L423.17 317.27 L423.68 317.88 L424.2 318.6 L424.71 319.4 L425.22 321.02 L425.74 323.9 L426.25 327.61 L426.77 331.72 L427.28 335.81 L427.8 339.45 L428.31 342.2 L428.83 344.37 L429.34 346.49 L429.86 348.48 L430.37 350.26 L430.89 351.76 L431.4 352.9 L431.92 353.6 L432.43 354.02 L432.95 354.38 L433.46 354.68 L433.98 354.93 L434.49 355.14 L435.01 355.33 L435.52 355.5 L436.04 355.65 L436.55 355.82 L437.07 355.99 L437.58 356.18 L438.1 356.41 L438.61 356.68 L439.12 357 L439.63 357.43 L440.13 358 L440.64 358.68 L441.14 359.41 L441.65 360.16 L442.15 360.88 L442.66 361.52 L443.16 362.06 L443.67 362.43 L444.17 362.6 L444.67 362.2 L445.18 361.3 L445.68 360.04 L446.19 358.53 L446.69 356.9 L447.2 355.27 L447.7 353.76 L448.21 352.5 L448.71 351.6 L449.22 351.2 L449.72 351.69 L450.22 352.77 L450.73 354.3 L451.23 356.12 L451.74 358.1 L452.24 360.08 L452.75 361.9 L453.25 363.43 L453.76 364.51 L454.26 365 L454.78 364.71 L455.29 364.05 L455.81 363.18 L456.32 362.2 L456.83 361.26 L457.35 360.48 L457.86 360 L458.41 359.74 L458.95 359.55 L459.49 359.4 L460.03 359.28 L460.57 359.15 L461.11 359 L461.65 358.79 L462.19 358.5 L462.71 357.61 L463.24 355.72 L463.76 353.08 L464.29 349.88 L464.81 346.36 L465.33 342.74 L465.86 339.23 L466.38 336.06 L466.91 333.45 L467.43 331.63 L467.95 330.8 L468.5 332.21 L469.04 335.32 L469.58 339.78 L470.12 345.25 L470.66 351.41 L471.2 357.9 L471.74 364.39 L472.28 370.55 L472.82 376.02 L473.36 380.48 L473.9 383.59 L474.44 385 L474.95 384.77 L475.46 384.32 L475.97 383.67 L476.48 382.83 L476.99 381.83 L477.5 380.69 L478.02 379.43 L478.53 378.07 L479.04 376.62 L479.55 375.11 L480.06 373.57 L480.57 372 L481.08 370.43 L481.59 368.89 L482.1 367.38 L482.61 365.93 L483.12 364.57 L483.63 363.31 L484.14 362.17 L484.65 361.17 L485.16 360.33 L485.67 359.68 L486.18 359.23 L486.69 359 L487.22 359.15 L487.74 359.48 L488.27 359.96 L488.79 360.53 L489.32 361.17 L489.84 361.83 L490.36 362.47 L490.89 363.04 L491.41 363.52 L491.94 363.85 L492.46 364 L492.97 363.91 L493.48 363.72 L493.99 363.45 L494.5 363.1 L495 362.7 L495.51 362.25 L496.02 361.76 L496.53 361.26 L497.04 360.74 L497.55 360.24 L498.06 359.75 L498.57 359.3 L499.07 358.9 L499.58 358.55 L500.09 358.28 L500.6 358.09 L501.11 358 L501.61 358.08 L502.12 358.24 L502.62 358.47 L503.13 358.76 L503.63 359.11 L504.14 359.51 L504.64 359.95 L505.15 360.43 L505.65 360.95 L506.15 361.49 L506.66 362.05 L507.16 362.62 L507.67 363.21 L508.17 363.79 L508.68 364.37 L509.18 364.94 L509.69 365.5 L510.19 366.03 L510.7 366.53 L511.2 367" fill="none" stroke="#1c1c1c" stroke-width="1.25" stroke-linejoin="round"/>
<path d="M78.75 370.3 L79.29 370.21 L79.84 370.1 L80.38 370 L80.93 369.89 L81.47 369.79 L82.01 369.68 L82.56 369.58 L83.1 369.5 L83.64 369.42 L84.19 369.35 L84.73 369.3 L85.24 369.26 L85.74 369.23 L86.25 369.21 L86.75 369.18 L87.25 369.16 L87.76 369.14 L88.26 369.13 L88.77 369.12 L89.27 369.1 L89.78 369.09 L90.28 369.08 L90.79 369.06 L91.29 369.05 L91.8 369.03 L92.3 369.01 L92.8 368.99 L93.31 368.96 L93.81 368.93 L94.32 368.89 L94.82 368.85 L95.33 368.8 L95.9 368.59 L96.48 368.17 L97.06 367.63 L97.63 367.1 L98.21 366.69 L98.79 366.5 L99.3 366.54 L99.81 366.63 L100.33 366.76 L100.84 366.9 L101.35 367.04 L101.87 367.17 L102.38 367.26 L102.9 367.3 L103.44 367.16 L103.98 366.86 L104.53 366.42 L105.07 365.88 L105.61 365.24 L106.16 364.52 L106.7 363.75 L107.25 362.94 L107.79 362.12 L108.33 361.3 L108.88 360.5 L109.38 359.6 L109.89 358.47 L110.39 357.28 L110.9 356.19 L111.4 355.37 L111.9 355 L112.45 355.68 L112.99 357.17 L113.53 359.31 L114.07 361.93 L114.61 364.89 L115.15 368 L115.69 371.11 L116.23 374.07 L116.77 376.69 L117.31 378.83 L117.85 380.32 L118.39 381 L118.97 379.98 L119.54 377.9 L120.12 375.75 L120.7 374.5 L121.22 374.16 L121.74 373.92 L122.27 373.72 L122.79 373.5 L123.31 373.26 L123.83 373.04 L124.36 372.77 L124.88 372.4 L125.38 371.59 L125.89 370.11 L126.39 368.14 L126.9 365.84 L127.4 363.39 L127.91 360.97 L128.41 358.75 L128.91 356.9 L129.42 355.59 L129.92 355 L130.43 355.95 L130.93 358.07 L131.44 361.06 L131.94 364.63 L132.45 368.5 L132.95 372.37 L133.45 375.94 L133.96 378.93 L134.46 381.05 L134.97 382 L135.48 381.15 L136 379.25 L136.51 376.72 L137.03 373.98 L137.54 371.45 L138.06 369.55 L138.57 368.7 L139.09 368.76 L139.6 368.9 L140.12 369.11 L140.63 369.38 L141.15 369.71 L141.66 370.08 L142.18 370.5 L142.69 371.62 L143.21 373.96 L143.72 377.32 L144.24 381.5 L144.75 386.28 L145.26 391.47 L145.78 396.86 L146.29 402.25 L146.81 407.42 L147.32 412.18 L147.84 416.33 L148.35 419.65 L148.87 421.94 L149.38 423 L149.89 419.43 L150.39 411.48 L150.9 400.25 L151.4 386.82 L151.91 372.3 L152.41 357.78 L152.92 344.35 L153.42 333.12 L153.92 325.17 L154.43 321.6 L155 324.64 L155.56 331.41 L156.13 340.42 L156.69 350.18 L157.26 359.19 L157.83 365.96 L158.39 369 L158.9 368.09 L159.4 366.15 L159.91 363.85 L160.41 361.91 L160.92 361 L161.46 361.48 L162 362.56 L162.54 364.12 L163.08 366 L163.65 370.49 L164.23 378.15 L164.81 386.66 L165.38 393.72 L165.96 397 L166.47 395.87 L166.98 393.49 L167.49 390.02 L168 385.63 L168.5 380.49 L169.01 374.77 L169.52 368.63 L170.03 362.24 L170.54 355.76 L171.05 349.37 L171.56 343.23 L172.07 337.51 L172.57 332.37 L173.08 327.98 L173.59 324.51 L174.1 322.13 L174.61 321 L175.15 322.89 L175.69 327.13 L176.23 332.92 L176.77 339.5 L177.31 346.08 L177.85 351.87 L178.39 356.11 L178.93 358 L179.47 356.46 L180.02 353.08 L180.56 348.23 L181.1 342.27 L181.64 335.57 L182.18 328.5 L182.72 321.43 L183.26 314.73 L183.8 308.77 L184.34 303.92 L184.88 300.54 L185.42 299 L185.94 300.8 L186.45 304.71 L186.97 310.37 L187.48 317.42 L188 325.53 L188.51 334.34 L189.02 343.5 L189.54 352.66 L190.05 361.47 L190.57 369.58 L191.08 376.63 L191.6 382.29 L192.11 386.2 L192.63 388 L193.13 387.23 L193.64 385.5 L194.14 383.06 L194.65 380.15 L195.15 377 L195.66 373.85 L196.16 370.94 L196.66 368.5 L197.17 366.77 L197.67 366 L198.2 367.14 L198.72 369.67 L199.25 373.28 L199.77 377.66 L200.29 382.5 L200.82 387.5 L201.34 392.34 L201.87 396.72 L202.39 400.33 L202.92 402.86 L203.44 404 L203.94 403.54 L204.45 402.52 L204.95 401.08 L205.46 399.36 L205.96 397.5 L206.47 395.64 L206.97 393.92 L207.48 392.48 L207.98 391.46 L208.49 391 L209.01 391.24 L209.53 391.77 L210.06 392.53 L210.58 393.45 L211.11 394.47 L211.63 395.53 L212.15 396.55 L212.68 397.47 L213.2 398.23 L213.73 398.76 L214.25 399 L214.76 398.26 L215.27 396.69 L215.78 394.41 L216.29 391.52 L216.79 388.14 L217.3 384.38 L217.81 380.34 L218.32 376.13 L218.83 371.87 L219.34 367.66 L219.85 363.62 L220.36 359.86 L220.86 356.48 L221.37 353.59 L221.88 351.31 L222.39 349.74 L222.9 349 L223.41 349.71 L223.93 351.28 L224.44 353.37 L224.96 355.63 L225.47 357.72 L225.99 359.29 L226.5 360 L227.01 359.33 L227.51 357.84 L228.02 355.74 L228.52 353.22 L229.03 350.5 L229.53 347.78 L230.04 345.26 L230.54 343.16 L231.04 341.67 L231.55 341 L232.06 341.64 L232.56 342.89 L233.07 344.69 L233.58 347 L234.08 349.77 L234.59 352.95 L235.1 356.49 L235.61 360.35 L236.11 364.47 L236.62 368.8 L237.13 373.31 L237.64 377.94 L238.14 382.64 L238.65 387.36 L239.16 392.06 L239.66 396.69 L240.17 401.2 L240.68 405.53 L241.19 409.65 L241.69 413.51 L242.2 417.05 L242.71 420.23 L243.21 423 L243.72 425.31 L244.23 427.11 L244.74 428.36 L245.24 429 L245.78 428.76 L246.32 428.3 L246.86 427.62 L247.41 426.74 L247.95 425.68 L248.49 424.44 L249.03 423.04 L249.57 421.49 L250.11 419.8 L250.65 417.98 L251.19 416.04 L251.73 414 L252.27 410.8 L252.81 405.65 L253.35 398.96 L253.89 391.15 L254.43 382.63 L254.97 373.82 L255.51 365.13 L256.05 356.97 L256.6 349.77 L257.14 343.93 L257.68 339.87 L258.22 338 L258.76 340.19 L259.3 345 L259.84 351.91 L260.38 360.4 L260.92 369.94 L261.46 380 L262 390.06 L262.54 399.6 L263.08 408.09 L263.62 415 L264.16 419.81 L264.7 422 L265.21 420.64 L265.71 417.85 L266.22 413.78 L266.72 408.6 L267.23 402.46 L267.73 395.52 L268.24 387.95 L268.74 379.9 L269.24 371.53 L269.75 363 L270.25 354.47 L270.76 346.1 L271.26 338.05 L271.77 330.48 L272.27 323.54 L272.78 317.4 L273.28 312.22 L273.78 308.15 L274.29 305.36 L274.79 304 L275.32 304.63 L275.85 306 L276.38 307.98 L276.91 310.46 L277.44 313.33 L277.97 316.49 L278.49 319.81 L279.02 323.19 L279.55 326.51 L280.08 329.67 L280.61 332.54 L281.14 335.02 L281.67 337 L282.19 338.37 L282.72 339 L283.24 338.31 L283.76 336.86 L284.28 334.75 L284.8 332.07 L285.32 328.93 L285.85 325.4 L286.37 321.59 L286.89 317.59 L287.41 313.5 L287.93 309.41 L288.45 305.41 L288.97 301.6 L289.49 298.07 L290.01 294.93 L290.53 292.25 L291.05 290.14 L291.57 288.69 L292.09 288 L292.61 288.96 L293.14 290.94 L293.66 293.81 L294.18 297.47 L294.7 301.81 L295.23 306.71 L295.75 312.07 L296.27 317.76 L296.79 323.67 L297.32 329.7 L297.84 335.73 L298.36 341.64 L298.89 347.33 L299.41 352.69 L299.93 357.59 L300.45 361.93 L300.98 365.59 L301.5 368.46 L302.02 370.44 L302.54 371.4 L303.05 371.11 L303.56 370.48 L304.07 369.58 L304.58 368.47 L305.1 367.19 L305.61 365.82 L306.12 364.41 L306.63 363.01 L307.14 361.7 L307.65 360.52 L308.16 359.53 L308.67 358.8 L309.2 358.22 L309.74 357.7 L310.27 357.22 L310.8 356.79 L311.34 356.39 L311.87 356 L312.4 355.63 L312.94 355.26 L313.47 354.89 L314 354.5 L314.53 354.08 L315.06 353.62 L315.58 353.14 L316.11 352.66 L316.63 352.2 L317.16 351.78 L317.69 351.4 L318.21 351.11 L318.74 350.9 L319.26 350.8 L319.8 350.87 L320.33 351.01 L320.86 351.22 L321.39 351.48 L321.92 351.8 L322.45 352.17 L322.99 352.57 L323.52 353 L324.02 353.66 L324.53 354.75 L325.03 356.18 L325.53 357.85 L326.04 359.68 L326.54 361.58 L327.05 363.45 L327.55 365.21 L328.06 366.76 L328.56 368.02 L329.07 368.9 L329.57 369.3 L330.08 368.81 L330.59 367.76 L331.1 366.24 L331.61 364.32 L332.11 362.07 L332.62 359.56 L333.13 356.87 L333.64 354.07 L334.15 351.23 L334.66 348.43 L335.17 345.74 L335.68 343.23 L336.18 340.98 L336.69 339.06 L337.2 337.54 L337.71 336.49 L338.22 336 L338.73 336.4 L339.25 337.15 L339.76 338.25 L340.28 339.66 L340.79 341.34 L341.31 343.28 L341.82 345.44 L342.34 347.8 L342.85 350.33 L343.37 352.99 L343.88 355.77 L344.4 358.63 L344.91 361.55 L345.43 364.5 L345.94 367.45 L346.46 370.37 L346.97 373.23 L347.49 376.01 L348 378.67 L348.52 381.2 L349.03 383.56 L349.55 385.72 L350.06 387.66 L350.58 389.34 L351.09 390.75 L351.61 391.85 L352.12 392.6 L352.63 393 L353.18 392.74 L353.72 392.17 L354.26 391.39 L354.8 390.5 L355.34 389.61 L355.88 388.83 L356.42 388.26 L356.96 388 L357.49 388.89 L358.02 390.8 L358.55 393.57 L359.07 397.04 L359.6 401.07 L360.13 405.48 L360.66 410.13 L361.19 414.87 L361.72 419.52 L362.25 423.93 L362.77 427.96 L363.3 431.43 L363.83 434.2 L364.36 436.11 L364.89 437 L365.41 436.58 L365.93 435.79 L366.45 434.65 L366.97 433.2 L367.49 431.47 L368.01 429.49 L368.53 427.29 L369.05 424.91 L369.57 422.37 L370.09 419.72 L370.61 416.98 L371.13 414.18 L371.65 411.35 L372.18 408.54 L372.7 405.76 L373.22 403.06 L373.74 400.46 L374.26 398 L374.76 395.6 L375.27 393.05 L375.78 390.36 L376.28 387.54 L376.79 384.6 L377.3 381.56 L377.8 378.42 L378.31 375.2 L378.82 371.92 L379.32 368.57 L379.83 365.18 L380.34 361.76 L380.84 358.31 L381.35 354.86 L381.85 351.4 L382.36 347.96 L382.87 344.55 L383.37 341.17 L383.88 337.85 L384.39 334.58 L384.89 331.39 L385.4 328.28 L385.91 325.27 L386.41 322.37 L386.92 319.59 L387.43 316.95 L387.93 314.44 L388.44 312.1 L388.95 309.92 L389.45 307.93 L389.96 306.12 L390.46 304.52 L390.97 303.14 L391.48 301.98 L391.98 301.06 L392.49 300.4 L393 300 L393.51 300.51 L394.01 301.53 L394.52 303 L395.03 304.88 L395.54 307.09 L396.05 309.59 L396.56 312.3 L397.07 315.19 L397.58 318.18 L398.08 321.22 L398.59 324.25 L399.1 327.22 L399.61 330.06 L400.12 332.71 L400.63 335.13 L401.14 337.24 L401.65 339 L402.17 340.64 L402.69 342.32 L403.22 343.99 L403.74 345.63 L404.27 347.2 L404.79 348.64 L405.32 349.94 L405.84 351.04 L406.36 351.91 L406.89 352.51 L407.41 352.8 L407.91 352.6 L408.41 352.19 L408.92 351.59 L409.42 350.83 L409.92 349.92 L410.42 348.89 L410.92 347.74 L411.42 346.51 L411.92 345.22 L412.43 343.87 L412.93 342.49 L413.43 341.11 L413.93 339.73 L414.43 338.38 L414.93 337.09 L415.43 335.86 L415.94 334.71 L416.44 333.68 L416.94 332.77 L417.44 332.01 L417.94 331.41 L418.44 331 L418.94 330.8 L419.46 331 L419.99 331.42 L420.51 332.03 L421.03 332.8 L421.55 333.7 L422.07 334.72 L422.59 335.82 L423.11 336.97 L423.63 338.15 L424.15 339.33 L424.67 340.48 L425.19 341.58 L425.71 342.6 L426.23 343.5 L426.75 344.27 L427.27 344.88 L427.79 345.3 L428.31 345.5 L428.83 345.29 L429.34 344.82 L429.86 344.19 L430.37 343.51 L430.89 342.88 L431.4 342.41 L431.92 342.2 L432.46 342.38 L433 342.79 L433.54 343.35 L434.08 344.04 L434.62 344.8 L435.16 345.58 L435.7 346.33 L436.24 347 L436.82 347.64 L437.4 348.26 L437.97 348.91 L438.55 349.61 L439.12 350.4 L439.63 351.29 L440.13 352.42 L440.64 353.72 L441.14 355.1 L441.65 356.5 L442.15 357.83 L442.66 359.02 L443.16 360 L443.67 360.68 L444.17 361 L444.67 360.8 L445.18 360.35 L445.68 359.72 L446.19 358.97 L446.69 358.15 L447.2 357.33 L447.7 356.58 L448.21 355.95 L448.71 355.5 L449.22 355.3 L449.72 355.64 L450.22 356.4 L450.73 357.48 L451.23 358.76 L451.74 360.15 L452.24 361.54 L452.75 362.82 L453.25 363.9 L453.76 364.66 L454.26 365 L454.8 364.67 L455.34 363.92 L455.88 362.91 L456.42 361.75 L456.96 360.59 L457.5 359.58 L458.04 358.83 L458.59 358.5 L459.1 358.55 L459.61 358.67 L460.13 358.82 L460.64 358.98 L461.16 359.13 L461.67 359.25 L462.19 359.3 L462.71 358.69 L463.24 357.34 L463.76 355.41 L464.29 353.07 L464.81 350.48 L465.33 347.82 L465.86 345.23 L466.38 342.89 L466.91 340.96 L467.43 339.61 L467.95 339 L468.5 340.3 L469.04 343.17 L469.58 347.28 L470.12 352.33 L470.66 358.01 L471.2 364 L471.74 369.99 L472.28 375.67 L472.82 380.72 L473.36 384.83 L473.9 387.7 L474.44 389 L474.95 388.74 L475.46 388.22 L475.97 387.46 L476.48 386.5 L476.99 385.35 L477.5 384.03 L478.02 382.57 L478.53 381 L479.04 379.33 L479.55 377.59 L480.06 375.81 L480.57 374 L481.08 372.19 L481.59 370.41 L482.1 368.67 L482.61 367 L483.12 365.43 L483.63 363.97 L484.14 362.65 L484.65 361.5 L485.16 360.54 L485.67 359.78 L486.18 359.26 L486.69 359 L487.22 359.09 L487.74 359.29 L488.27 359.57 L488.79 359.92 L489.32 360.3 L489.84 360.7 L490.36 361.08 L490.89 361.43 L491.41 361.71 L491.94 361.91 L492.46 362 L492.97 361.94 L493.48 361.82 L493.99 361.63 L494.5 361.4 L495 361.13 L495.51 360.83 L496.02 360.51 L496.53 360.17 L497.04 359.83 L497.55 359.49 L498.06 359.17 L498.57 358.87 L499.07 358.6 L499.58 358.37 L500.09 358.18 L500.6 358.06 L501.11 358 L501.61 358.08 L502.12 358.24 L502.62 358.47 L503.13 358.76 L503.63 359.11 L504.14 359.51 L504.64 359.95 L505.15 360.43 L505.65 360.95 L506.15 361.49 L506.66 362.05 L507.16 362.62 L507.67 363.21 L508.17 363.79 L508.68 364.37 L509.18 364.94 L509.69 365.5 L510.19 366.03 L510.7 366.53 L511.2 367" fill="none" stroke="#e0202a" stroke-width="1.1" stroke-linejoin="round"/>
<text transform="translate(111,341.5) rotate(-90)" x="0" y="3.58" font-size="10" text-anchor="middle" fill="#111">1754</text>
<text transform="translate(129.6,341.5) rotate(-90)" x="0" y="3.58" font-size="10" text-anchor="middle" fill="#111">1729</text>
<text transform="translate(139.5,356) rotate(-90)" x="0" y="3.58" font-size="10" text-anchor="middle" fill="#111">1717</text>
<text transform="translate(154.6,308.5) rotate(-90)" x="0" y="3.58" font-size="10" text-anchor="middle" fill="#111">1695</text>
<text transform="translate(174,309.5) rotate(-90)" x="0" y="3.58" font-size="10" text-anchor="middle" fill="#111">1667</text>
<text transform="translate(186,285.5) rotate(-90)" x="0" y="3.58" font-size="10" text-anchor="middle" fill="#111">1652</text>
<text transform="translate(198,349.5) rotate(-90)" x="0" y="3.58" font-size="10" text-anchor="middle" fill="#111">1635</text>
<text transform="translate(209,360.5) rotate(-90)" x="0" y="3.58" font-size="10" text-anchor="middle" fill="#111">1620</text>
<text transform="translate(232,316.5) rotate(-90)" x="0" y="3.58" font-size="10" text-anchor="middle" fill="#111">1588</text>
<text transform="translate(119,401.5) rotate(-90)" x="0" y="3.58" font-size="10" text-anchor="middle" fill="#111">1745</text>
<text transform="translate(136,396.5) rotate(-90)" x="0" y="3.58" font-size="10" text-anchor="middle" fill="#111">1722</text>
<text transform="translate(150.4,436.5) rotate(-90)" x="0" y="3.58" font-size="10" text-anchor="middle" fill="#111">1702</text>
<text transform="translate(166,420) rotate(-90)" x="0" y="3.58" font-size="10" text-anchor="middle" fill="#111">1679</text>
<text transform="translate(179.6,370.5) rotate(-90)" x="0" y="3.58" font-size="10" text-anchor="middle" fill="#111">1661</text>
<text transform="translate(193.6,400.5) rotate(-90)" x="0" y="3.58" font-size="10" text-anchor="middle" fill="#111">1642</text>
<text transform="translate(204,417.5) rotate(-90)" x="0" y="3.58" font-size="10" text-anchor="middle" fill="#111">1627</text>
<text transform="translate(215.6,411) rotate(-90)" x="0" y="3.58" font-size="10" text-anchor="middle" fill="#111">1612</text>
<text transform="translate(258,313.5) rotate(-90)" x="0" y="3.58" font-size="10" text-anchor="middle" fill="#111">1551</text>
<text transform="translate(275,281.5) rotate(-90)" x="0" y="3.58" font-size="10" text-anchor="middle" fill="#111">1528</text>
<text transform="translate(292.4,268.5) rotate(-90)" x="0" y="3.58" font-size="10" text-anchor="middle" fill="#111">1504</text>
<text transform="translate(283.6,349.5) rotate(-90)" x="0" y="3.58" font-size="10" text-anchor="middle" fill="#111">1517</text>
<text transform="translate(319.6,334.5) rotate(-90)" x="0" y="3.58" font-size="10" text-anchor="middle" fill="#111">1466</text>
<text transform="translate(338,319.5) rotate(-90)" x="0" y="3.58" font-size="10" text-anchor="middle" fill="#111">1440</text>
<text transform="translate(385,294.5) rotate(-90)" x="0" y="3.58" font-size="10" text-anchor="middle" fill="#111">1364</text>
<text transform="translate(247,442.5) rotate(-90)" x="0" y="3.58" font-size="10" text-anchor="middle" fill="#111">1569</text>
<text transform="translate(265.6,436.5) rotate(-90)" x="0" y="3.58" font-size="10" text-anchor="middle" fill="#111">1542</text>
<text transform="translate(304,385.5) rotate(-90)" x="0" y="3.58" font-size="10" text-anchor="middle" fill="#111">1489</text>
<text transform="translate(330,382.5) rotate(-90)" x="0" y="3.58" font-size="10" text-anchor="middle" fill="#111">1452</text>
<text transform="translate(357,367.5) rotate(-90)" x="0" y="3.58" font-size="10" text-anchor="middle" fill="#111">1414</text>
<text transform="translate(354,409.5) rotate(-90)" x="0" y="3.58" font-size="10" text-anchor="middle" fill="#111">1419</text>
<text transform="translate(376,411.5) rotate(-90)" x="0" y="3.58" font-size="10" text-anchor="middle" fill="#111">1388</text>
<text transform="translate(374.5,441.5) rotate(-90)" x="0" y="3.58" font-size="10" text-anchor="middle" fill="#111">1403</text>
<text transform="translate(403.9,315.3) rotate(-90)" x="0" y="3.58" font-size="10" text-anchor="middle" fill="#111">1352</text>
<text transform="translate(421,302.5) rotate(-90)" x="0" y="3.58" font-size="10" text-anchor="middle" fill="#111">1325</text>
<text transform="translate(447.9,337.7) rotate(-90)" x="0" y="3.58" font-size="10" text-anchor="middle" fill="#111">1286</text>
<text transform="translate(467.5,316.5) rotate(-90)" x="0" y="3.58" font-size="10" text-anchor="middle" fill="#111">1260</text>
<text transform="translate(486,344.5) rotate(-90)" x="0" y="3.58" font-size="10" text-anchor="middle" fill="#111">1234</text>
<text transform="translate(500,345.5) rotate(-90)" x="0" y="3.58" font-size="10" text-anchor="middle" fill="#111">1214</text>
<text transform="translate(444,377.5) rotate(-90)" x="0" y="3.58" font-size="10" text-anchor="middle" fill="#111">1293</text>
<text transform="translate(455,377.5) rotate(-90)" x="0" y="3.58" font-size="10" text-anchor="middle" fill="#111">1279</text>
<text transform="translate(484,394.5) rotate(-90)" x="0" y="3.58" font-size="10" text-anchor="middle" fill="#111">1251</text>
<text transform="translate(493,378.5) rotate(-90)" x="0" y="3.58" font-size="10" text-anchor="middle" fill="#111">1226</text>
<text transform="translate(222.4,336.5) rotate(-90)" x="0" y="3.58" font-size="10" text-anchor="middle" fill="#e0202a">1600</text>
<text transform="translate(408,365.5) rotate(-90)" x="0" y="3.58" font-size="10" text-anchor="middle" fill="#e0202a">1344</text>
<text transform="translate(418.7,357.5) rotate(-90)" x="0" y="3.58" font-size="10" text-anchor="middle" fill="#e0202a">1328</text>
<text transform="translate(427.8,365.5) rotate(-90)" x="0" y="3.58" font-size="10" text-anchor="middle" fill="#e0202a">1315</text>
<text transform="translate(431.5,328) rotate(-90)" x="0" y="3.58" font-size="10" text-anchor="middle" fill="#e0202a">1310</text>
<text transform="translate(456,345.5) rotate(-90)" x="0" y="3.58" font-size="10" text-anchor="middle" fill="#e0202a">1274</text>
<line x1="389" y1="298" x2="393.6" y2="300.5" stroke="#1c1c1c" stroke-width="0.8"/>
<line x1="401.7" y1="337.3" x2="404.7" y2="329" stroke="#1c1c1c" stroke-width="0.8"/>
<line x1="418.5" y1="331.6" x2="418.5" y2="343.8" stroke="#e0202a" stroke-width="0.8"/>
<line x1="366" y1="426" x2="373" y2="431" stroke="#1c1c1c" stroke-width="0.8"/>
<line x1="526.75" y1="423" x2="559.25" y2="423" stroke="#444" stroke-width="1"/>
<line x1="526.75" y1="440" x2="559.25" y2="440" stroke="#e0202a" stroke-width="1"/>
<text x="566.75" y="427.5" font-size="14.4" text-anchor="start" fill="#111" font-family='"Liberation Sans", sans-serif'>Wild-type</text>
<text x="566.75" y="444.5" font-size="14.4" text-anchor="start" fill="#e0202a" font-family='"Liberation Sans", sans-serif'>CP43-E354Q</text>
<path d="M521 324 L521.53 320.04 L522.06 316.02 L522.58 311.96 L523.11 307.91 L523.64 303.89 L524.17 299.93 L524.69 296.05 L525.22 292.3 L525.75 288.7 L526.28 285.11 L526.82 281.48 L527.36 277.87 L527.89 274.31 L528.42 270.85 L528.96 267.53 L529.5 264.39 L530.03 261.48 L530.57 258.84 L531.1 256.5 L531.61 254.44 L532.13 252.42 L532.64 250.45 L533.16 248.52 L533.67 246.65 L534.19 244.82 L534.7 243.06 L535.21 241.35 L535.73 239.7 L536.24 238.11 L536.76 236.59 L537.27 235.13 L537.79 233.75 L538.3 232.44 L538.81 231.2 L539.33 230.04 L539.84 228.97 L540.36 227.97 L540.87 227.06 L541.39 226.23 L541.9 225.5 L542.42 224.81 L542.94 224.12 L543.46 223.44 L543.98 222.78 L544.5 222.12 L545.01 221.49 L545.53 220.88 L546.05 220.28 L546.57 219.72 L547.09 219.18 L547.61 218.68 L548.13 218.21 L548.65 217.78 L549.17 217.38 L549.69 217.03 L550.2 216.73 L550.72 216.47 L551.24 216.27 L551.76 216.12 L552.28 216.03 L552.8 216 L553.32 216.21 L553.84 216.8 L554.36 217.76 L554.88 219.05 L555.4 220.64 L555.92 222.5 L556.44 224.59 L556.96 226.89 L557.48 229.37 L558 232 L558.5 235.63 L559 240.9 L559.5 247.17 L560 253.75 L560.5 260 L561 266.2 L561.5 273.02 L562 280.36 L562.5 288.11 L563 296.17 L563.5 304.45 L564 312.83 L564.5 321.23 L565 329.54 L565.5 337.65 L566 345.47 L566.5 352.9 L567 359.83 L567.5 366.17 L568 371.81 L568.5 376.65 L569 380.59 L569.5 383.53 L570 385.36 L570.5 386 L571 385.51 L571.5 384.08 L572 381.77 L572.5 378.67 L573 374.84 L573.5 370.34 L574 365.26 L574.5 359.65 L575 353.58 L575.5 347.14 L576 340.38 L576.5 333.37 L577 326.19 L577.5 318.9 L578 311.58 L578.5 304.29 L579 297.1 L579.5 290.08 L580 283.3 L580.5 276.84 L581 270.75 L581.5 265.12 L582 260 L582.5 255.08 L583 249.99 L583.5 244.76 L584 239.4 L584.5 233.93 L585 228.37 L585.5 222.75 L586 217.08 L586.5 211.37 L587 205.66 L587.5 199.95 L588 194.27 L588.5 188.64 L589 183.07 L589.5 177.59 L590 172.21 L590.5 166.95 L591 161.84 L591.5 156.89 L592 152.11 L592.5 147.54 L593 143.19 L593.5 139.07 L594 135.21 L594.5 131.63 L595 128.35 L595.5 125.37 L596 122.74 L596.5 120.45 L597 118.54 L597.5 117.02 L598 115.91 L598.5 115.23 L599 115 L599.5 115.14 L600.01 115.57 L600.51 116.25 L601.01 117.18 L601.51 118.34 L602.02 119.71 L602.52 121.29 L603.02 123.04 L603.52 124.96 L604.03 127.04 L604.53 129.24 L605.03 131.57 L605.54 134 L606.04 136.52 L606.54 139.11 L607.04 141.75 L607.55 144.43 L608.05 147.14 L608.55 149.86 L609.05 152.57 L609.56 155.25 L610.06 157.89 L610.56 160.48 L611.06 163 L611.57 165.43 L612.07 167.76 L612.57 169.96 L613.08 172.04 L613.58 173.96 L614.08 175.71 L614.58 177.29 L615.09 178.66 L615.59 179.82 L616.09 180.75 L616.59 181.43 L617.1 181.86 L617.6 182 L618.11 181.69 L618.61 180.8 L619.12 179.36 L619.63 177.41 L620.13 175 L620.64 172.16 L621.15 168.94 L621.65 165.38 L622.16 161.51 L622.66 157.37 L623.17 153.02 L623.68 148.48 L624.18 143.8 L624.69 139.02 L625.2 134.18 L625.7 129.32 L626.21 124.48 L626.72 119.7 L627.22 115.02 L627.73 110.48 L628.24 106.13 L628.74 101.99 L629.25 98.12 L629.75 94.56 L630.26 91.34 L630.77 88.5 L631.27 86.09 L631.78 84.14 L632.29 82.7 L632.79 81.81 L633.3 81.5 L633.81 82.05 L634.32 83.64 L634.83 86.2 L635.33 89.66 L635.84 93.95 L636.35 98.99 L636.86 104.71 L637.37 111.05 L637.88 117.92 L638.39 125.26 L638.9 132.99 L639.4 141.03 L639.91 149.33 L640.42 157.8 L640.93 166.38 L641.44 174.98 L641.95 183.55 L642.46 192 L642.97 200.26 L643.47 208.27 L643.98 215.94 L644.49 223.21 L645 230 L645.5 236.63 L646 243.67 L646.5 251.06 L647 258.76 L647.5 266.73 L648 274.93 L648.5 283.31 L649 291.82 L649.5 300.43 L650 309.08 L650.5 317.75 L651 326.37 L651.5 334.91 L652 343.33 L652.5 351.57 L653 359.6 L653.5 367.38 L654 374.85 L654.5 381.97 L655 388.71 L655.5 395.01 L656 400.84 L656.5 406.14 L657 410.88 L657.5 415.01 L658 418.49 L658.5 421.27 L659 423.31 L659.5 424.57 L660 425 L660.51 424.74 L661.02 423.98 L661.53 422.76 L662.04 421.12 L662.54 419.1 L663.05 416.73 L663.56 414.06 L664.07 411.12 L664.58 407.95 L665.09 404.59 L665.6 401.08 L666.11 397.45 L666.62 393.74 L667.12 390 L667.63 386.26 L668.14 382.55 L668.65 378.92 L669.16 375.41 L669.67 372.05 L670.18 368.88 L670.69 365.94 L671.2 363.27 L671.71 360.9 L672.21 358.88 L672.72 357.24 L673.23 356.02 L673.74 355.26 L674.25 355 L674.77 355.1 L675.29 355.38 L675.81 355.81 L676.33 356.35 L676.85 356.98 L677.37 357.65 L677.88 358.35 L678.4 359.02 L678.92 359.65 L679.44 360.19 L679.96 360.62 L680.48 360.9 L681 361 L681.51 360.57 L682.02 359.34 L682.53 357.39 L683.04 354.81 L683.56 351.66 L684.07 348.04 L684.58 344.02 L685.09 339.69 L685.6 335.12 L686.11 330.41 L686.62 325.62 L687.13 320.85 L687.64 316.17 L688.16 311.66 L688.67 307.41 L689.18 303.5 L689.69 300 L690.2 297 L690.72 294.19 L691.24 291.31 L691.75 288.37 L692.27 285.38 L692.79 282.38 L693.31 279.39 L693.83 276.41 L694.35 273.48 L694.86 270.62 L695.38 267.84 L695.9 265.16 L696.42 262.61 L696.94 260.21 L697.45 257.97 L697.97 255.92 L698.49 254.07 L699.01 252.45 L699.53 251.08 L700.05 249.98 L700.56 249.17 L701.08 248.67 L701.6 248.5 L702.11 248.63 L702.61 249.01 L703.12 249.62 L703.62 250.41 L704.13 251.38 L704.64 252.5 L705.14 253.73 L705.65 255.06 L706.16 256.46 L706.66 257.9 L707.17 259.36 L707.68 260.8 L708.18 262.22 L708.69 263.57 L709.19 264.84 L709.7 266" fill="none" stroke="#1c1c1c" stroke-width="1.2" stroke-linejoin="round"/>
<path d="M521 316 L521.53 311.73 L522.06 307.39 L522.58 303.02 L523.11 298.64 L523.64 294.3 L524.17 290.03 L524.69 285.87 L525.22 281.85 L525.75 278 L526.29 273.95 L526.83 269.57 L527.37 265.02 L527.91 260.45 L528.45 256 L529 251.82 L529.54 248.07 L530.08 244.9 L530.62 242.44 L531.16 240.86 L531.7 240.3 L532.23 240.45 L532.77 240.87 L533.3 241.52 L533.83 242.37 L534.37 243.39 L534.9 244.54 L535.43 245.78 L535.97 247.08 L536.5 248.4 L537 249.87 L537.5 251.76 L538 253.97 L538.5 256.41 L539 259 L539.5 261.64 L540 264.25 L540.5 266.73 L541 269 L541.52 271.21 L542.05 273.38 L542.58 275.51 L543.1 277.6 L543.62 279.66 L544.15 281.71 L544.67 283.75 L545.2 285.78 L545.72 287.81 L546.25 289.85 L546.77 291.91 L547.3 294 L547.82 296.11 L548.33 298.28 L548.85 300.49 L549.37 302.72 L549.88 304.96 L550.4 307.19 L550.92 309.37 L551.43 311.49 L551.95 313.54 L552.47 315.49 L552.98 317.31 L553.5 319 L554.01 320.59 L554.52 322.17 L555.02 323.74 L555.53 325.27 L556.04 326.76 L556.55 328.18 L557.06 329.52 L557.57 330.77 L558.08 331.9 L558.58 332.92 L559.09 333.79 L559.6 334.5 L560.13 335.16 L560.66 335.8 L561.19 336.4 L561.71 336.92 L562.24 337.33 L562.77 337.6 L563.3 337.7 L563.8 337.3 L564.3 336.17 L564.8 334.41 L565.3 332.13 L565.8 329.44 L566.3 326.44 L566.8 323.25 L567.3 319.96 L567.8 316.68 L568.3 313.53 L568.8 310.6 L569.32 307.72 L569.83 304.83 L570.35 301.89 L570.87 298.9 L571.38 295.84 L571.9 292.68 L572.42 289.41 L572.93 286.02 L573.45 282.48 L573.97 278.77 L574.48 274.89 L575 270.8 L575.5 266.38 L576 261.37 L576.5 256.01 L577 250.51 L577.5 245.1 L578 240 L578.5 234.99 L579 229.73 L579.5 224.26 L580 218.6 L580.5 212.79 L581 206.88 L581.5 200.9 L582 194.88 L582.5 188.87 L583 182.9 L583.5 177 L584 171.22 L584.5 165.59 L585 160.14 L585.5 154.92 L586 149.96 L586.5 145.3 L587 140.97 L587.5 137.01 L588 133.46 L588.5 130.36 L589 127.73 L589.5 125.63 L590 124.08 L590.5 123.13 L591 122.8 L591.5 122.91 L592 123.23 L592.5 123.75 L593 124.47 L593.5 125.38 L594 126.46 L594.5 127.7 L595 129.11 L595.5 130.66 L596 132.35 L596.5 134.18 L597 136.12 L597.5 138.18 L598 140.35 L598.5 142.6 L599 144.95 L599.5 147.37 L600 149.85 L600.5 152.4 L601 155 L601.5 157.63 L602 160.3 L602.5 162.99 L603 165.7 L603.5 168.4 L604 171.11 L604.5 173.8 L605 176.47 L605.5 179.1 L606 181.7 L606.5 184.25 L607 186.73 L607.5 189.15 L608 191.5 L608.5 193.75 L609 195.92 L609.5 197.98 L610 199.92 L610.5 201.75 L611 203.44 L611.5 204.99 L612 206.4 L612.5 207.64 L613 208.72 L613.5 209.63 L614 210.35 L614.5 210.87 L615 211.19 L615.5 211.3 L616 210.99 L616.5 210.09 L617 208.68 L617.5 206.81 L618 204.53 L618.5 201.92 L619 199.04 L619.5 195.94 L620 192.68 L620.5 189.34 L621 185.96 L621.5 182.62 L622 179.36 L622.5 176.26 L623 173.38 L623.5 170.77 L624 168.49 L624.5 166.62 L625 165.21 L625.5 164.31 L626 164 L626.5 164.32 L627 165.23 L627.5 166.69 L628 168.66 L628.5 171.09 L629 173.92 L629.5 177.12 L630 180.63 L630.5 184.41 L631 188.4 L631.5 192.57 L632 196.87 L632.5 201.24 L633 205.64 L633.5 210.02 L634 214.33 L634.5 218.54 L635 222.58 L635.5 226.42 L636 230 L636.5 233.44 L637 236.88 L637.5 240.34 L638 243.8 L638.5 247.28 L639 250.79 L639.5 254.31 L640 257.87 L640.5 261.45 L641 265.08 L641.5 268.74 L642 272.44 L642.5 276.2 L643 280 L643.5 284.02 L644 288.39 L644.5 293.07 L645 298.02 L645.5 303.18 L646 308.52 L646.5 313.99 L647 319.55 L647.5 325.15 L648 330.75 L648.5 336.31 L649 341.78 L649.5 347.12 L650 352.29 L650.5 357.23 L651 361.92 L651.5 366.29 L652 370.32 L652.5 373.95 L653 377.14 L653.5 379.86 L654 382.04 L654.5 383.66 L655 384.66 L655.5 385 L656.01 384.92 L656.53 384.67 L657.04 384.28 L657.56 383.75 L658.08 383.1 L658.59 382.33 L659.11 381.46 L659.62 380.49 L660.13 379.45 L660.65 378.34 L661.16 377.17 L661.68 375.96 L662.19 374.71 L662.71 373.44 L663.22 372.16 L663.74 370.88 L664.25 369.62 L664.77 368.37 L665.28 367.16 L665.8 366 L666.31 364.81 L666.82 363.52 L667.33 362.14 L667.84 360.68 L668.36 359.16 L668.87 357.59 L669.38 356 L669.89 354.39 L670.4 352.79 L670.91 351.2 L671.42 349.65 L671.93 348.14 L672.44 346.7 L672.96 345.34 L673.47 344.07 L673.98 342.92 L674.49 341.89 L675 341 L675.5 340.26 L676 339.6 L676.5 339.02 L677 338.48 L677.5 337.99 L678 337.51 L678.5 337.03 L679 336.53 L679.5 336 L680 335.41 L680.5 334.75 L681 334 L681.52 333.12 L682.04 332.16 L682.56 331.11 L683.08 329.98 L683.6 328.78 L684.12 327.49 L684.64 326.14 L685.16 324.71 L685.68 323.22 L686.2 321.66 L686.72 320.04 L687.24 318.36 L687.76 316.63 L688.28 314.84 L688.8 313 L689.32 311.01 L689.83 308.78 L690.35 306.33 L690.87 303.71 L691.38 300.96 L691.9 298.1 L692.42 295.18 L692.93 292.25 L693.45 289.32 L693.97 286.45 L694.48 283.66 L695 281 L695.51 278.3 L696.02 275.32 L696.52 272.17 L697.03 268.91 L697.54 265.63 L698.05 262.43 L698.55 259.37 L699.06 256.55 L699.57 254.06 L700.08 251.97 L700.58 250.38 L701.09 249.36 L701.6 249 L702.11 249.3 L702.61 250.17 L703.12 251.55 L703.62 253.38 L704.13 255.59 L704.64 258.14 L705.14 260.96 L705.65 264 L706.16 267.19 L706.66 270.48 L707.17 273.81 L707.68 277.12 L708.18 280.36 L708.69 283.45 L709.19 286.35 L709.7 289" fill="none" stroke="#e0202a" stroke-width="1.1" stroke-linejoin="round"/>
<text transform="translate(633.5,66.6) rotate(-90)" x="0" y="3.33" font-size="9.3" text-anchor="middle" fill="#111">1321</text>
<text transform="translate(599.25,100) rotate(-90)" x="0" y="3.33" font-size="9.3" text-anchor="middle" fill="#111">1339</text>
<text transform="translate(553.75,202.5) rotate(-90)" x="0" y="3.33" font-size="9.3" text-anchor="middle" fill="#111">1364</text>
<text transform="translate(701.75,234.75) rotate(-90)" x="0" y="3.33" font-size="9.3" text-anchor="middle" fill="#111">1285</text>
<text transform="translate(571.75,400.6) rotate(-90)" x="0" y="3.33" font-size="9.3" text-anchor="middle" fill="#111">1354</text>
<text transform="translate(660.5,437.5) rotate(-90)" x="0" y="3.33" font-size="9.3" text-anchor="middle" fill="#111">1306</text>
<text transform="translate(681.75,373) rotate(-90)" x="0" y="3.33" font-size="9.3" text-anchor="middle" fill="#111">1296</text>
<text transform="translate(590.5,109.4) rotate(-90)" x="0" y="3.33" font-size="9.3" text-anchor="middle" fill="#e0202a">1343</text>
<text transform="translate(619.75,142.5) rotate(-90)" x="0" y="3.33" font-size="9.3" text-anchor="middle" fill="#e0202a">1324</text>
<text transform="translate(531.75,225.9) rotate(-90)" x="0" y="3.33" font-size="9.3" text-anchor="middle" fill="#e0202a">1375</text>
<text transform="translate(556.75,357) rotate(-90)" x="0" y="3.33" font-size="9.3" text-anchor="middle" fill="#e0202a">1358</text>
<text transform="translate(651.75,403.75) rotate(-90)" x="0" y="3.33" font-size="9.3" text-anchor="middle" fill="#e0202a">1308</text>
<line x1="558" y1="346" x2="563" y2="338.75" stroke="#e0202a" stroke-width="0.8"/>
<line x1="623" y1="153.75" x2="626" y2="162" stroke="#e0202a" stroke-width="0.8"/>
<line x1="655" y1="387.5" x2="652.5" y2="392" stroke="#e0202a" stroke-width="0.8"/></svg>
</body></html>
